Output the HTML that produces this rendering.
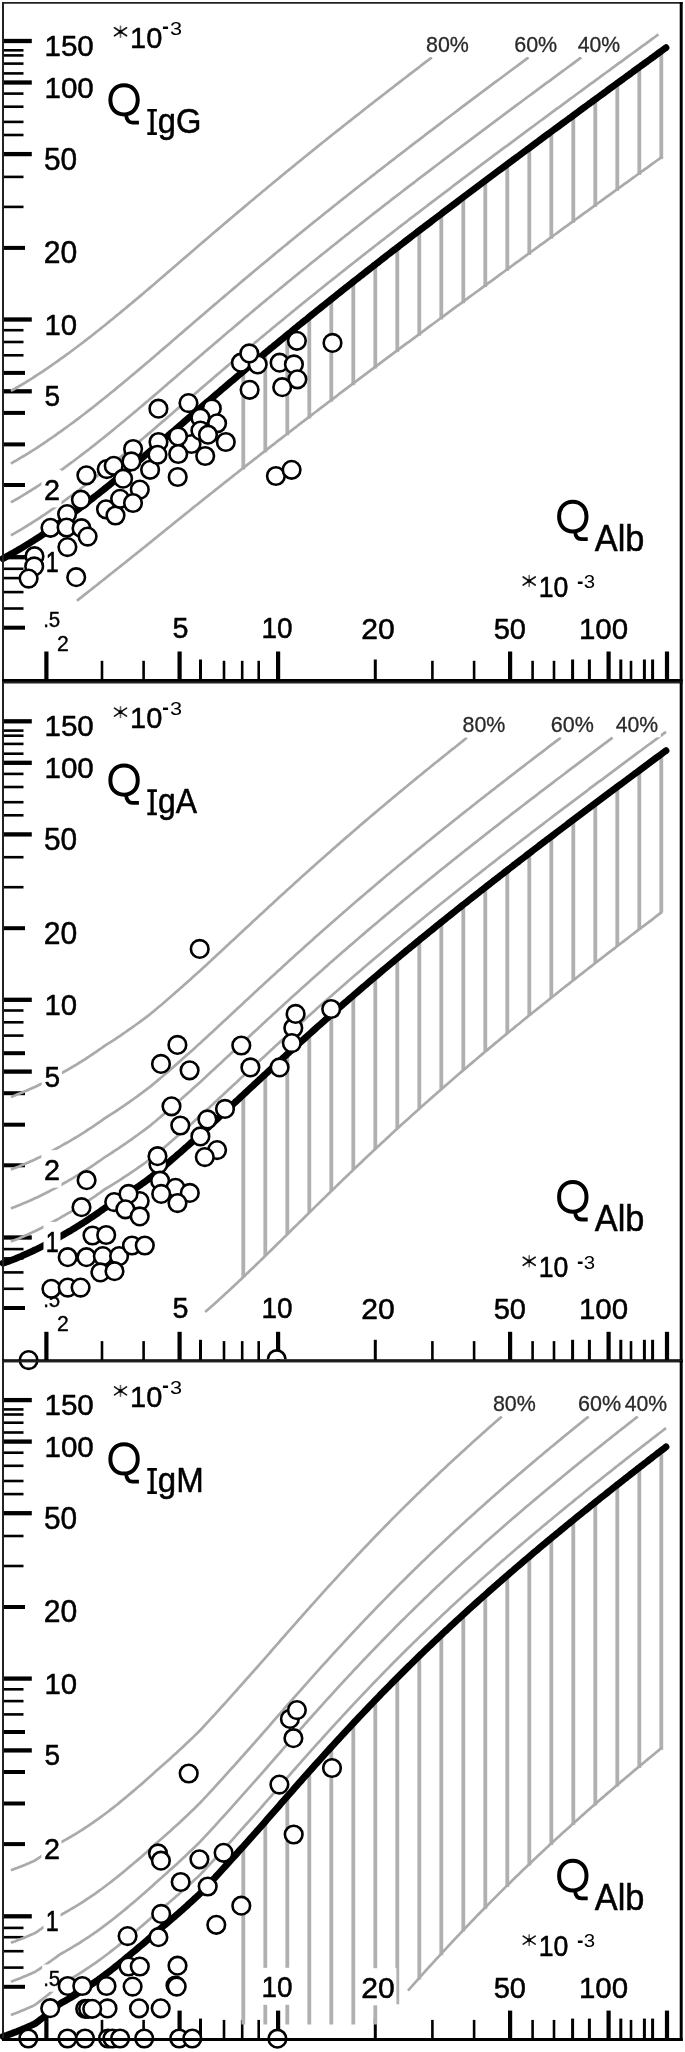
<!DOCTYPE html><html><head><meta charset="utf-8"><style>html,body{margin:0;padding:0;background:#fff;width:685px;height:2052px;overflow:hidden}svg{display:block;filter:grayscale(1)}</style></head><body><svg width="685" height="2052" viewBox="0 0 685 2052">
<line x1="3" y1="41.0" x2="31.8" y2="41.0" stroke="#000" stroke-width="4.3"/>
<line x1="3" y1="50.3" x2="23.5" y2="50.3" stroke="#000" stroke-width="2.6"/>
<line x1="3" y1="55.4" x2="23.5" y2="55.4" stroke="#000" stroke-width="2.6"/>
<line x1="3" y1="63.6" x2="23.5" y2="63.6" stroke="#000" stroke-width="2.6"/>
<line x1="3" y1="73.4" x2="23.5" y2="73.4" stroke="#000" stroke-width="2.6"/>
<line x1="3" y1="82.5" x2="31.8" y2="82.5" stroke="#000" stroke-width="4.3"/>
<line x1="3" y1="93.6" x2="23.5" y2="93.6" stroke="#000" stroke-width="2.6"/>
<line x1="3" y1="106.7" x2="23.5" y2="106.7" stroke="#000" stroke-width="2.6"/>
<line x1="3" y1="121.9" x2="23.5" y2="121.9" stroke="#000" stroke-width="2.6"/>
<line x1="3" y1="135.0" x2="23.5" y2="135.0" stroke="#000" stroke-width="2.6"/>
<line x1="3" y1="154.1" x2="31.8" y2="154.1" stroke="#000" stroke-width="4.3"/>
<line x1="3" y1="176.9" x2="23.5" y2="176.9" stroke="#000" stroke-width="2.6"/>
<line x1="3" y1="206.9" x2="23.5" y2="206.9" stroke="#000" stroke-width="2.6"/>
<line x1="3" y1="247.9" x2="25" y2="247.9" stroke="#000" stroke-width="4"/>
<line x1="3" y1="319.5" x2="31.8" y2="319.5" stroke="#000" stroke-width="4.3"/>
<line x1="3" y1="330.2" x2="23.5" y2="330.2" stroke="#000" stroke-width="2.6"/>
<line x1="3" y1="342.0" x2="23.5" y2="342.0" stroke="#000" stroke-width="2.6"/>
<line x1="3" y1="355.3" x2="23.5" y2="355.3" stroke="#000" stroke-width="2.6"/>
<line x1="3" y1="372.9" x2="25" y2="372.9" stroke="#000" stroke-width="4"/>
<line x1="3" y1="391.3" x2="31.8" y2="391.3" stroke="#000" stroke-width="4.3"/>
<line x1="3" y1="412.9" x2="25" y2="412.9" stroke="#000" stroke-width="4"/>
<line x1="3" y1="444.4" x2="25" y2="444.4" stroke="#000" stroke-width="4"/>
<line x1="3" y1="485.0" x2="25" y2="485.0" stroke="#000" stroke-width="4"/>
<line x1="3" y1="557.2" x2="31.8" y2="557.2" stroke="#000" stroke-width="4.3"/>
<line x1="3" y1="568.8" x2="23.5" y2="568.8" stroke="#000" stroke-width="2.6"/>
<line x1="3" y1="578.1" x2="23.5" y2="578.1" stroke="#000" stroke-width="2.6"/>
<line x1="3" y1="592.1" x2="23.5" y2="592.1" stroke="#000" stroke-width="2.6"/>
<line x1="3" y1="608.5" x2="23.5" y2="608.5" stroke="#000" stroke-width="2.6"/>
<line x1="3" y1="627.7" x2="25" y2="627.7" stroke="#000" stroke-width="4"/>
<line x1="46.4" y1="680.5" x2="46.4" y2="651.5" stroke="#000" stroke-width="4.2"/>
<line x1="102.0" y1="680.5" x2="102.0" y2="660.8" stroke="#000" stroke-width="2.6"/>
<line x1="143.6" y1="680.5" x2="143.6" y2="660.8" stroke="#000" stroke-width="2.6"/>
<line x1="179.6" y1="680.5" x2="179.6" y2="651.5" stroke="#000" stroke-width="4.2"/>
<line x1="200.5" y1="680.5" x2="200.5" y2="659.5" stroke="#000" stroke-width="3"/>
<line x1="224.0" y1="680.5" x2="224.0" y2="660.8" stroke="#000" stroke-width="2.6"/>
<line x1="242.2" y1="680.5" x2="242.2" y2="660.8" stroke="#000" stroke-width="2.6"/>
<line x1="258.7" y1="680.5" x2="258.7" y2="660.8" stroke="#000" stroke-width="2.6"/>
<line x1="278.1" y1="680.5" x2="278.1" y2="651.5" stroke="#000" stroke-width="4.2"/>
<line x1="375.3" y1="680.5" x2="375.3" y2="659.5" stroke="#000" stroke-width="3"/>
<line x1="432.4" y1="680.5" x2="432.4" y2="660.8" stroke="#000" stroke-width="2.6"/>
<line x1="474.1" y1="680.5" x2="474.1" y2="660.8" stroke="#000" stroke-width="2.6"/>
<line x1="510.1" y1="680.5" x2="510.1" y2="651.5" stroke="#000" stroke-width="4.2"/>
<line x1="532.6" y1="680.5" x2="532.6" y2="660.8" stroke="#000" stroke-width="2.6"/>
<line x1="554.0" y1="680.5" x2="554.0" y2="660.8" stroke="#000" stroke-width="2.6"/>
<line x1="572.6" y1="680.5" x2="572.6" y2="659.5" stroke="#000" stroke-width="3"/>
<line x1="589.4" y1="680.5" x2="589.4" y2="659.5" stroke="#000" stroke-width="3"/>
<line x1="608.6" y1="680.5" x2="608.6" y2="651.5" stroke="#000" stroke-width="4.2"/>
<line x1="620.8" y1="680.5" x2="620.8" y2="659.5" stroke="#000" stroke-width="3"/>
<line x1="631.0" y1="680.5" x2="631.0" y2="660.8" stroke="#000" stroke-width="2.6"/>
<line x1="644.4" y1="680.5" x2="644.4" y2="659.5" stroke="#000" stroke-width="3"/>
<line x1="652.6" y1="680.5" x2="652.6" y2="659.5" stroke="#000" stroke-width="3"/>
<line x1="667.0" y1="680.5" x2="667.0" y2="651.5" stroke="#000" stroke-width="4.2"/>
<line x1="243.3" y1="371.4" x2="243.3" y2="469.6" stroke="#b0b0b0" stroke-width="3.8"/>
<line x1="265.3" y1="353.0" x2="265.3" y2="452.4" stroke="#b0b0b0" stroke-width="3.8"/>
<line x1="287.3" y1="334.8" x2="287.3" y2="435.4" stroke="#b0b0b0" stroke-width="3.8"/>
<line x1="309.3" y1="316.9" x2="309.3" y2="418.5" stroke="#b0b0b0" stroke-width="3.8"/>
<line x1="331.3" y1="299.2" x2="331.3" y2="401.7" stroke="#b0b0b0" stroke-width="3.8"/>
<line x1="353.3" y1="281.8" x2="353.3" y2="385.1" stroke="#b0b0b0" stroke-width="3.8"/>
<line x1="375.3" y1="264.5" x2="375.3" y2="368.5" stroke="#b0b0b0" stroke-width="3.8"/>
<line x1="397.3" y1="247.5" x2="397.3" y2="352.1" stroke="#b0b0b0" stroke-width="3.8"/>
<line x1="419.3" y1="230.6" x2="419.3" y2="335.7" stroke="#b0b0b0" stroke-width="3.8"/>
<line x1="441.3" y1="213.8" x2="441.3" y2="319.4" stroke="#b0b0b0" stroke-width="3.8"/>
<line x1="463.3" y1="197.2" x2="463.3" y2="303.2" stroke="#b0b0b0" stroke-width="3.8"/>
<line x1="485.3" y1="180.7" x2="485.3" y2="287.1" stroke="#b0b0b0" stroke-width="3.8"/>
<line x1="507.3" y1="164.3" x2="507.3" y2="270.9" stroke="#b0b0b0" stroke-width="3.8"/>
<line x1="529.3" y1="147.9" x2="529.3" y2="254.9" stroke="#b0b0b0" stroke-width="3.8"/>
<line x1="551.3" y1="131.7" x2="551.3" y2="238.8" stroke="#b0b0b0" stroke-width="3.8"/>
<line x1="573.3" y1="115.5" x2="573.3" y2="222.8" stroke="#b0b0b0" stroke-width="3.8"/>
<line x1="595.3" y1="99.3" x2="595.3" y2="206.9" stroke="#b0b0b0" stroke-width="3.8"/>
<line x1="617.3" y1="83.2" x2="617.3" y2="190.9" stroke="#b0b0b0" stroke-width="3.8"/>
<line x1="639.3" y1="67.2" x2="639.3" y2="175.0" stroke="#b0b0b0" stroke-width="3.8"/>
<line x1="661.3" y1="51.1" x2="661.3" y2="159.1" stroke="#b0b0b0" stroke-width="3.8"/>
<path d="M76.9 600.7 L78.9 599.1 L80.9 597.6 L82.9 596.0 L84.9 594.4 L86.9 592.9 L88.9 591.3 L90.9 589.7 L92.9 588.1 L94.9 586.5 L96.9 585.0 L98.9 583.4 L100.9 581.8 L102.9 580.2 L104.9 578.6 L106.9 577.0 L108.9 575.4 L110.9 573.8 L112.9 572.2 L114.9 570.6 L116.9 569.0 L118.9 567.5 L120.9 565.9 L122.9 564.3 L124.9 562.7 L126.9 561.1 L128.9 559.5 L130.9 557.9 L132.9 556.3 L134.9 554.7 L136.9 553.1 L138.9 551.5 L140.9 549.9 L142.9 548.3 L144.9 546.7 L146.9 545.1 L148.9 543.5 L150.9 541.9 L152.9 540.2 L154.9 538.6 L156.9 537.0 L158.9 535.4 L160.9 533.8 L162.9 532.1 L164.9 530.5 L166.9 528.9 L168.9 527.3 L170.9 525.7 L172.9 524.0 L174.9 522.4 L176.9 520.8 L178.9 519.2 L180.9 517.6 L182.9 516.0 L184.9 514.4 L186.9 512.8 L188.9 511.2 L190.9 509.5 L192.9 507.9 L194.9 506.3 L196.9 504.7 L198.9 503.1 L200.9 501.5 L202.9 499.9 L204.9 498.3 L206.9 496.7 L208.9 495.1 L210.9 493.5 L212.9 492.0 L214.9 490.4 L216.9 488.8 L218.9 487.2 L220.9 485.6 L222.9 484.0 L224.9 482.4 L226.9 480.8 L228.9 479.3 L230.9 477.7 L232.9 476.1 L234.9 474.5 L236.9 473.0 L238.9 471.4 L240.9 469.8 L242.9 468.2 L244.9 466.7 L246.9 465.1 L248.9 463.5 L250.9 462.0 L252.9 460.4 L254.9 458.8 L256.9 457.3 L258.9 455.7 L260.9 454.1 L262.9 452.6 L264.9 451.0 L266.9 449.5 L268.9 447.9 L270.9 446.4 L272.9 444.8 L274.9 443.3 L276.9 441.7 L278.9 440.2 L280.9 438.6 L282.9 437.1 L284.9 435.5 L286.9 434.0 L288.9 432.4 L290.9 430.9 L292.9 429.4 L294.9 427.8 L296.9 426.3 L298.9 424.7 L300.9 423.2 L302.9 421.7 L304.9 420.1 L306.9 418.6 L308.9 417.1 L310.9 415.6 L312.9 414.0 L314.9 412.5 L316.9 411.0 L318.9 409.4 L320.9 407.9 L322.9 406.4 L324.9 404.9 L326.9 403.4 L328.9 401.8 L330.9 400.3 L332.9 398.8 L334.9 397.3 L336.9 395.8 L338.9 394.2 L340.9 392.7 L342.9 391.2 L344.9 389.7 L346.9 388.2 L348.9 386.7 L350.9 385.2 L352.9 383.7 L354.9 382.2 L356.9 380.7 L358.9 379.1 L360.9 377.6 L362.9 376.1 L364.9 374.6 L366.9 373.1 L368.9 371.6 L370.9 370.1 L372.9 368.6 L374.9 367.1 L376.9 365.6 L378.9 364.1 L380.9 362.6 L382.9 361.1 L384.9 359.6 L386.9 358.1 L388.9 356.7 L390.9 355.2 L392.9 353.7 L394.9 352.2 L396.9 350.7 L398.9 349.2 L400.9 347.7 L402.9 346.2 L404.9 344.7 L406.9 343.2 L408.9 341.8 L410.9 340.3 L412.9 338.8 L414.9 337.3 L416.9 335.8 L418.9 334.3 L420.9 332.8 L422.9 331.4 L424.9 329.9 L426.9 328.4 L428.9 326.9 L430.9 325.4 L432.9 324.0 L434.9 322.5 L436.9 321.0 L438.9 319.5 L440.9 318.0 L442.9 316.6 L444.9 315.1 L446.9 313.6 L448.9 312.1 L450.9 310.7 L452.9 309.2 L454.9 307.7 L456.9 306.2 L458.9 304.8 L460.9 303.3 L462.9 301.8 L464.9 300.3 L466.9 298.9 L468.9 297.4 L470.9 295.9 L472.9 294.5 L474.9 293.0 L476.9 291.5 L478.9 290.1 L480.9 288.6 L482.9 287.1 L484.9 285.7 L486.9 284.2 L488.9 282.7 L490.9 281.3 L492.9 279.8 L494.9 278.3 L496.9 276.9 L498.9 275.4 L500.9 273.9 L502.9 272.5 L504.9 271.0 L506.9 269.5 L508.9 268.1 L510.9 266.6 L512.9 265.2 L514.9 263.7 L516.9 262.2 L518.9 260.8 L520.9 259.3 L522.9 257.8 L524.9 256.4 L526.9 254.9 L528.9 253.5 L530.9 252.0 L532.9 250.5 L534.9 249.1 L536.9 247.6 L538.9 246.2 L540.9 244.7 L542.9 243.3 L544.9 241.8 L546.9 240.3 L548.9 238.9 L550.9 237.4 L552.9 236.0 L554.9 234.5 L556.9 233.1 L558.9 231.6 L560.9 230.2 L562.9 228.7 L564.9 227.2 L566.9 225.8 L568.9 224.3 L570.9 222.9 L572.9 221.4 L574.9 220.0 L576.9 218.5 L578.9 217.1 L580.9 215.6 L582.9 214.2 L584.9 212.7 L586.9 211.3 L588.9 209.8 L590.9 208.4 L592.9 206.9 L594.9 205.4 L596.9 204.0 L598.9 202.5 L600.9 201.1 L602.9 199.6 L604.9 198.2 L606.9 196.7 L608.9 195.3 L610.9 193.8 L612.9 192.4 L614.9 190.9 L616.9 189.5 L618.9 188.0 L620.9 186.6 L622.9 185.1 L624.9 183.7 L626.9 182.3 L628.9 180.8 L630.9 179.4 L632.9 177.9 L634.9 176.5 L636.9 175.0 L638.9 173.6 L640.9 172.1 L642.9 170.7 L644.9 169.2 L646.9 167.8 L648.9 166.3 L650.9 164.9 L652.9 163.4 L654.9 162.0 L656.9 160.5 L658.9 159.1 L660.9 157.6 L662.0 156.9" fill="none" stroke="#aaaaaa" stroke-width="2.7" stroke-linejoin="round" />
<path d="M10.9 535.4 L12.9 534.2 L14.9 533.1 L16.9 531.9 L18.9 530.8 L20.9 529.6 L22.9 528.4 L24.9 527.2 L26.9 526.0 L28.9 524.7 L30.9 523.5 L32.9 522.2 L34.9 520.9 L36.9 519.6 L38.9 518.3 L40.9 517.0 L42.9 515.7 L44.9 514.3 L46.9 513.0 L48.9 511.6 L50.9 510.2 L52.9 508.9 L54.9 507.4 L56.9 506.0 L58.9 504.6 L60.9 503.2 L62.9 501.8 L64.9 500.3 L66.9 498.9 L68.9 497.4 L70.9 496.0 L72.9 494.5 L74.9 493.0 L76.9 491.5 L78.9 490.0 L80.9 488.5 L82.9 487.0 L84.9 485.5 L86.9 483.9 L88.9 482.4 L90.9 480.8 L92.9 479.3 L94.9 477.7 L96.9 476.1 L98.9 474.6 L100.9 473.0 L102.9 471.4 L104.9 469.8 L106.9 468.2 L108.9 466.6 L110.9 464.9 L112.9 463.3 L114.9 461.7 L116.9 460.1 L118.9 458.4 L120.9 456.8 L122.9 455.1 L124.9 453.5 L126.9 451.8 L128.9 450.2 L130.9 448.5 L132.9 446.8 L134.9 445.2 L136.9 443.5 L138.9 441.8 L140.9 440.1 L142.9 438.5 L144.9 436.8 L146.9 435.1 L148.9 433.4 L150.9 431.7 L152.9 430.0 L154.9 428.3 L156.9 426.6 L158.9 424.8 L160.9 423.1 L162.9 421.4 L164.9 419.7 L166.9 417.9 L168.9 416.2 L170.9 414.5 L172.9 412.8 L174.9 411.0 L176.9 409.3 L178.9 407.6 L180.9 405.9 L182.9 404.1 L184.9 402.4 L186.9 400.7 L188.9 399.0 L190.9 397.2 L192.9 395.5 L194.9 393.8 L196.9 392.1 L198.9 390.4 L200.9 388.6 L202.9 386.9 L204.9 385.2 L206.9 383.5 L208.9 381.8 L210.9 380.1 L212.9 378.4 L214.9 376.6 L216.9 374.9 L218.9 373.2 L220.9 371.5 L222.9 369.8 L224.9 368.1 L226.9 366.4 L228.9 364.7 L230.9 363.0 L232.9 361.3 L234.9 359.6 L236.9 357.9 L238.9 356.3 L240.9 354.6 L242.9 352.9 L244.9 351.2 L246.9 349.5 L248.9 347.8 L250.9 346.2 L252.9 344.5 L254.9 342.8 L256.9 341.1 L258.9 339.5 L260.9 337.8 L262.9 336.1 L264.9 334.5 L266.9 332.8 L268.9 331.2 L270.9 329.5 L272.9 327.8 L274.9 326.2 L276.9 324.5 L278.9 322.9 L280.9 321.2 L282.9 319.6 L284.9 318.0 L286.9 316.3 L288.9 314.7 L290.9 313.0 L292.9 311.4 L294.9 309.8 L296.9 308.1 L298.9 306.5 L300.9 304.9 L302.9 303.3 L304.9 301.6 L306.9 300.0 L308.9 298.4 L310.9 296.8 L312.9 295.2 L314.9 293.6 L316.9 292.0 L318.9 290.3 L320.9 288.7 L322.9 287.1 L324.9 285.5 L326.9 283.9 L328.9 282.3 L330.9 280.7 L332.9 279.1 L334.9 277.6 L336.9 276.0 L338.9 274.4 L340.9 272.8 L342.9 271.2 L344.9 269.6 L346.9 268.0 L348.9 266.4 L350.9 264.9 L352.9 263.3 L354.9 261.7 L356.9 260.1 L358.9 258.6 L360.9 257.0 L362.9 255.4 L364.9 253.9 L366.9 252.3 L368.9 250.7 L370.9 249.2 L372.9 247.6 L374.9 246.0 L376.9 244.5 L378.9 242.9 L380.9 241.4 L382.9 239.8 L384.9 238.3 L386.9 236.7 L388.9 235.2 L390.9 233.6 L392.9 232.1 L394.9 230.5 L396.9 229.0 L398.9 227.4 L400.9 225.9 L402.9 224.4 L404.9 222.8 L406.9 221.3 L408.9 219.7 L410.9 218.2 L412.9 216.7 L414.9 215.1 L416.9 213.6 L418.9 212.1 L420.9 210.6 L422.9 209.0 L424.9 207.5 L426.9 206.0 L428.9 204.4 L430.9 202.9 L432.9 201.4 L434.9 199.9 L436.9 198.4 L438.9 196.8 L440.9 195.3 L442.9 193.8 L444.9 192.3 L446.9 190.8 L448.9 189.3 L450.9 187.8 L452.9 186.2 L454.9 184.7 L456.9 183.2 L458.9 181.7 L460.9 180.2 L462.9 178.7 L464.9 177.2 L466.9 175.7 L468.9 174.2 L470.9 172.7 L472.9 171.2 L474.9 169.7 L476.9 168.2 L478.9 166.7 L480.9 165.2 L482.9 163.7 L484.9 162.2 L486.9 160.7 L488.9 159.2 L490.9 157.7 L492.9 156.2 L494.9 154.7 L496.9 153.2 L498.9 151.7 L500.9 150.2 L502.9 148.7 L504.9 147.2 L506.9 145.8 L508.9 144.3 L510.9 142.8 L512.9 141.3 L514.9 139.8 L516.9 138.3 L518.9 136.8 L520.9 135.4 L522.9 133.9 L524.9 132.4 L526.9 130.9 L528.9 129.4 L530.9 127.9 L532.9 126.5 L534.9 125.0 L536.9 123.5 L538.9 122.0 L540.9 120.5 L542.9 119.1 L544.9 117.6 L546.9 116.1 L548.9 114.6 L550.9 113.2 L552.9 111.7 L554.9 110.2 L556.9 108.7 L558.9 107.3 L560.9 105.8 L562.9 104.3 L564.9 102.8 L566.9 101.4 L568.9 99.9 L570.9 98.4 L572.9 97.0 L574.9 95.5 L576.9 94.0 L578.9 92.5 L580.9 91.1 L582.9 89.6 L584.9 88.1 L586.9 86.7 L588.9 85.2 L590.9 83.7 L592.9 82.3 L594.9 80.8 L596.9 79.3 L598.9 77.9 L600.9 76.4 L602.9 74.9 L604.9 73.5 L606.9 72.0 L608.9 70.6 L610.9 69.1 L612.9 67.6 L614.9 66.2 L616.9 64.7 L618.9 63.2 L620.9 61.8 L622.9 60.3 L624.9 58.9 L626.9 57.4 L628.9 55.9 L630.9 54.5 L632.9 53.0 L634.9 51.6 L636.9 50.1 L638.9 48.7 L640.9 47.2 L642.9 45.7 L644.9 44.3 L646.9 42.8 L648.9 41.4 L650.9 39.9 L652.9 38.4 L654.9 37.0 L656.9 35.5 L658.4 34.4" fill="none" stroke="#aaaaaa" stroke-width="2.7" stroke-linejoin="round" />
<path d="M10.9 502.4 L12.9 501.2 L14.9 500.1 L16.9 499.0 L18.9 497.8 L20.9 496.6 L22.9 495.4 L24.9 494.2 L26.9 493.0 L28.9 491.7 L30.9 490.5 L32.9 489.2 L34.9 488.0 L36.9 486.7 L38.9 485.4 L40.9 484.0 L42.9 482.7 L44.9 481.4 L46.9 480.0 L48.9 478.6 L50.9 477.3 L52.9 475.9 L54.9 474.5 L56.9 473.0 L58.9 471.6 L60.9 470.2 L62.9 468.8 L64.9 467.3 L66.9 465.9 L68.9 464.4 L70.9 462.9 L72.9 461.5 L74.9 460.0 L76.9 458.5 L78.9 457.0 L80.9 455.4 L82.9 453.9 L84.9 452.4 L86.9 450.8 L88.9 449.3 L90.9 447.7 L92.9 446.2 L94.9 444.6 L96.9 443.0 L98.9 441.4 L100.9 439.8 L102.9 438.2 L104.9 436.6 L106.9 435.0 L108.9 433.4 L110.9 431.7 L112.9 430.1 L114.9 428.5 L116.9 426.8 L118.9 425.2 L120.9 423.5 L122.9 421.9 L124.9 420.2 L126.9 418.5 L128.9 416.9 L130.9 415.2 L132.9 413.5 L134.9 411.9 L136.9 410.2 L138.9 408.5 L140.9 406.8 L142.9 405.1 L144.9 403.4 L146.9 401.7 L148.9 400.0 L150.9 398.3 L152.9 396.6 L154.9 394.9 L156.9 393.2 L158.9 391.5 L160.9 389.7 L162.9 388.0 L164.9 386.3 L166.9 384.6 L168.9 382.8 L170.9 381.1 L172.9 379.4 L174.9 377.7 L176.9 375.9 L178.9 374.2 L180.9 372.5 L182.9 370.8 L184.9 369.0 L186.9 367.3 L188.9 365.6 L190.9 363.9 L192.9 362.1 L194.9 360.4 L196.9 358.7 L198.9 357.0 L200.9 355.3 L202.9 353.6 L204.9 351.8 L206.9 350.1 L208.9 348.4 L210.9 346.7 L212.9 345.0 L214.9 343.3 L216.9 341.6 L218.9 339.9 L220.9 338.2 L222.9 336.4 L224.9 334.7 L226.9 333.0 L228.9 331.3 L230.9 329.7 L232.9 328.0 L234.9 326.3 L236.9 324.6 L238.9 322.9 L240.9 321.2 L242.9 319.5 L244.9 317.8 L246.9 316.1 L248.9 314.5 L250.9 312.8 L252.9 311.1 L254.9 309.4 L256.9 307.8 L258.9 306.1 L260.9 304.4 L262.9 302.8 L264.9 301.1 L266.9 299.4 L268.9 297.8 L270.9 296.1 L272.9 294.5 L274.9 292.8 L276.9 291.2 L278.9 289.5 L280.9 287.9 L282.9 286.2 L284.9 284.6 L286.9 282.9 L288.9 281.3 L290.9 279.7 L292.9 278.0 L294.9 276.4 L296.9 274.8 L298.9 273.1 L300.9 271.5 L302.9 269.9 L304.9 268.3 L306.9 266.7 L308.9 265.0 L310.9 263.4 L312.9 261.8 L314.9 260.2 L316.9 258.6 L318.9 257.0 L320.9 255.4 L322.9 253.8 L324.9 252.2 L326.9 250.6 L328.9 249.0 L330.9 247.4 L332.9 245.8 L334.9 244.2 L336.9 242.6 L338.9 241.0 L340.9 239.4 L342.9 237.8 L344.9 236.2 L346.9 234.7 L348.9 233.1 L350.9 231.5 L352.9 229.9 L354.9 228.3 L356.9 226.8 L358.9 225.2 L360.9 223.6 L362.9 222.1 L364.9 220.5 L366.9 218.9 L368.9 217.4 L370.9 215.8 L372.9 214.2 L374.9 212.7 L376.9 211.1 L378.9 209.6 L380.9 208.0 L382.9 206.4 L384.9 204.9 L386.9 203.3 L388.9 201.8 L390.9 200.2 L392.9 198.7 L394.9 197.2 L396.9 195.6 L398.9 194.1 L400.9 192.5 L402.9 191.0 L404.9 189.4 L406.9 187.9 L408.9 186.4 L410.9 184.8 L412.9 183.3 L414.9 181.8 L416.9 180.2 L418.9 178.7 L420.9 177.2 L422.9 175.7 L424.9 174.1 L426.9 172.6 L428.9 171.1 L430.9 169.6 L432.9 168.0 L434.9 166.5 L436.9 165.0 L438.9 163.5 L440.9 162.0 L442.9 160.4 L444.9 158.9 L446.9 157.4 L448.9 155.9 L450.9 154.4 L452.9 152.9 L454.9 151.4 L456.9 149.8 L458.9 148.3 L460.9 146.8 L462.9 145.3 L464.9 143.8 L466.9 142.3 L468.9 140.8 L470.9 139.3 L472.9 137.8 L474.9 136.3 L476.9 134.8 L478.9 133.3 L480.9 131.8 L482.9 130.3 L484.9 128.8 L486.9 127.3 L488.9 125.8 L490.9 124.3 L492.9 122.8 L494.9 121.3 L496.9 119.8 L498.9 118.3 L500.9 116.9 L502.9 115.4 L504.9 113.9 L506.9 112.4 L508.9 110.9 L510.9 109.4 L512.9 107.9 L514.9 106.4 L516.9 104.9 L518.9 103.5 L520.9 102.0 L522.9 100.5 L524.9 99.0 L526.9 97.5 L528.9 96.0 L530.9 94.6 L532.9 93.1 L534.9 91.6 L536.9 90.1 L538.9 88.6 L540.9 87.2 L542.9 85.7 L544.9 84.2 L546.9 82.7 L548.9 81.3 L550.9 79.8 L552.9 78.3 L554.9 76.8 L556.9 75.4 L558.9 73.9 L560.9 72.4 L562.9 70.9 L564.9 69.5 L566.9 68.0 L568.9 66.5 L570.9 65.1 L572.9 63.6 L574.9 62.1 L576.9 60.6 L578.9 59.2 L580.9 57.7 L581.3 57.4" fill="none" stroke="#aaaaaa" stroke-width="2.7" stroke-linejoin="round" />
<path d="M10.9 463.5 L12.9 462.4 L14.9 461.2 L16.9 460.1 L18.9 458.9 L20.9 457.7 L22.9 456.5 L24.9 455.3 L26.9 454.1 L28.9 452.9 L30.9 451.6 L32.9 450.3 L34.9 449.1 L36.9 447.8 L38.9 446.5 L40.9 445.1 L42.9 443.8 L44.9 442.5 L46.9 441.1 L48.9 439.7 L50.9 438.4 L52.9 437.0 L54.9 435.6 L56.9 434.2 L58.9 432.7 L60.9 431.3 L62.9 429.9 L64.9 428.4 L66.9 427.0 L68.9 425.5 L70.9 424.0 L72.9 422.6 L74.9 421.1 L76.9 419.6 L78.9 418.1 L80.9 416.5 L82.9 415.0 L84.9 413.5 L86.9 411.9 L88.9 410.4 L90.9 408.8 L92.9 407.3 L94.9 405.7 L96.9 404.1 L98.9 402.5 L100.9 400.9 L102.9 399.3 L104.9 397.7 L106.9 396.1 L108.9 394.5 L110.9 392.8 L112.9 391.2 L114.9 389.6 L116.9 387.9 L118.9 386.3 L120.9 384.6 L122.9 383.0 L124.9 381.3 L126.9 379.7 L128.9 378.0 L130.9 376.3 L132.9 374.6 L134.9 373.0 L136.9 371.3 L138.9 369.6 L140.9 367.9 L142.9 366.2 L144.9 364.5 L146.9 362.8 L148.9 361.2 L150.9 359.4 L152.9 357.7 L154.9 356.0 L156.9 354.3 L158.9 352.6 L160.9 350.8 L162.9 349.1 L164.9 347.4 L166.9 345.7 L168.9 344.0 L170.9 342.2 L172.9 340.5 L174.9 338.8 L176.9 337.1 L178.9 335.3 L180.9 333.6 L182.9 331.9 L184.9 330.1 L186.9 328.4 L188.9 326.7 L190.9 325.0 L192.9 323.3 L194.9 321.5 L196.9 319.8 L198.9 318.1 L200.9 316.4 L202.9 314.7 L204.9 312.9 L206.9 311.2 L208.9 309.5 L210.9 307.8 L212.9 306.1 L214.9 304.4 L216.9 302.7 L218.9 301.0 L220.9 299.3 L222.9 297.6 L224.9 295.9 L226.9 294.2 L228.9 292.5 L230.9 290.8 L232.9 289.1 L234.9 287.4 L236.9 285.7 L238.9 284.0 L240.9 282.3 L242.9 280.6 L244.9 278.9 L246.9 277.3 L248.9 275.6 L250.9 273.9 L252.9 272.2 L254.9 270.5 L256.9 268.9 L258.9 267.2 L260.9 265.5 L262.9 263.9 L264.9 262.2 L266.9 260.6 L268.9 258.9 L270.9 257.2 L272.9 255.6 L274.9 253.9 L276.9 252.3 L278.9 250.6 L280.9 249.0 L282.9 247.3 L284.9 245.7 L286.9 244.1 L288.9 242.4 L290.9 240.8 L292.9 239.1 L294.9 237.5 L296.9 235.9 L298.9 234.3 L300.9 232.6 L302.9 231.0 L304.9 229.4 L306.9 227.8 L308.9 226.1 L310.9 224.5 L312.9 222.9 L314.9 221.3 L316.9 219.7 L318.9 218.1 L320.9 216.5 L322.9 214.9 L324.9 213.3 L326.9 211.7 L328.9 210.1 L330.9 208.5 L332.9 206.9 L334.9 205.3 L336.9 203.7 L338.9 202.1 L340.9 200.5 L342.9 198.9 L344.9 197.3 L346.9 195.8 L348.9 194.2 L350.9 192.6 L352.9 191.0 L354.9 189.4 L356.9 187.9 L358.9 186.3 L360.9 184.7 L362.9 183.2 L364.9 181.6 L366.9 180.0 L368.9 178.5 L370.9 176.9 L372.9 175.3 L374.9 173.8 L376.9 172.2 L378.9 170.7 L380.9 169.1 L382.9 167.6 L384.9 166.0 L386.9 164.5 L388.9 162.9 L390.9 161.4 L392.9 159.8 L394.9 158.3 L396.9 156.7 L398.9 155.2 L400.9 153.6 L402.9 152.1 L404.9 150.6 L406.9 149.0 L408.9 147.5 L410.9 145.9 L412.9 144.4 L414.9 142.9 L416.9 141.3 L418.9 139.8 L420.9 138.3 L422.9 136.8 L424.9 135.2 L426.9 133.7 L428.9 132.2 L430.9 130.7 L432.9 129.1 L434.9 127.6 L436.9 126.1 L438.9 124.6 L440.9 123.1 L442.9 121.5 L444.9 120.0 L446.9 118.5 L448.9 117.0 L450.9 115.5 L452.9 114.0 L454.9 112.5 L456.9 111.0 L458.9 109.4 L460.9 107.9 L462.9 106.4 L464.9 104.9 L466.9 103.4 L468.9 101.9 L470.9 100.4 L472.9 98.9 L474.9 97.4 L476.9 95.9 L478.9 94.4 L480.9 92.9 L482.9 91.4 L484.9 89.9 L486.9 88.4 L488.9 86.9 L490.9 85.4 L492.9 83.9 L494.9 82.4 L496.9 80.9 L498.9 79.5 L500.9 78.0 L502.9 76.5 L504.9 75.0 L506.9 73.5 L508.9 72.0 L510.9 70.5 L512.9 69.0 L514.9 67.5 L516.9 66.1 L518.9 64.6 L520.9 63.1 L522.9 61.6 L524.9 60.1 L526.9 58.6 L528.6 57.4" fill="none" stroke="#aaaaaa" stroke-width="2.7" stroke-linejoin="round" />
<path d="M10.9 390.9 L12.9 389.8 L14.9 388.7 L16.9 387.5 L18.9 386.3 L20.9 385.2 L22.9 384.0 L24.9 382.8 L26.9 381.5 L28.9 380.3 L30.9 379.1 L32.9 377.8 L34.9 376.5 L36.9 375.2 L38.9 373.9 L40.9 372.6 L42.9 371.3 L44.9 369.9 L46.9 368.6 L48.9 367.2 L50.9 365.8 L52.9 364.4 L54.9 363.0 L56.9 361.6 L58.9 360.2 L60.9 358.7 L62.9 357.3 L64.9 355.9 L66.9 354.4 L68.9 353.0 L70.9 351.5 L72.9 350.0 L74.9 348.5 L76.9 347.0 L78.9 345.5 L80.9 344.0 L82.9 342.5 L84.9 340.9 L86.9 339.4 L88.9 337.8 L90.9 336.3 L92.9 334.7 L94.9 333.1 L96.9 331.5 L98.9 330.0 L100.9 328.4 L102.9 326.8 L104.9 325.2 L106.9 323.5 L108.9 321.9 L110.9 320.3 L112.9 318.7 L114.9 317.0 L116.9 315.4 L118.9 313.7 L120.9 312.1 L122.9 310.4 L124.9 308.8 L126.9 307.1 L128.9 305.4 L130.9 303.8 L132.9 302.1 L134.9 300.4 L136.9 298.7 L138.9 297.1 L140.9 295.4 L142.9 293.7 L144.9 292.0 L146.9 290.3 L148.9 288.6 L150.9 286.9 L152.9 285.2 L154.9 283.5 L156.9 281.7 L158.9 280.0 L160.9 278.3 L162.9 276.6 L164.9 274.9 L166.9 273.1 L168.9 271.4 L170.9 269.7 L172.9 268.0 L174.9 266.2 L176.9 264.5 L178.9 262.8 L180.9 261.0 L182.9 259.3 L184.9 257.6 L186.9 255.9 L188.9 254.2 L190.9 252.4 L192.9 250.7 L194.9 249.0 L196.9 247.3 L198.9 245.5 L200.9 243.8 L202.9 242.1 L204.9 240.4 L206.9 238.7 L208.9 237.0 L210.9 235.3 L212.9 233.5 L214.9 231.8 L216.9 230.1 L218.9 228.4 L220.9 226.7 L222.9 225.0 L224.9 223.3 L226.9 221.6 L228.9 219.9 L230.9 218.2 L232.9 216.5 L234.9 214.8 L236.9 213.1 L238.9 211.4 L240.9 209.8 L242.9 208.1 L244.9 206.4 L246.9 204.7 L248.9 203.0 L250.9 201.3 L252.9 199.7 L254.9 198.0 L256.9 196.3 L258.9 194.7 L260.9 193.0 L262.9 191.3 L264.9 189.7 L266.9 188.0 L268.9 186.3 L270.9 184.7 L272.9 183.0 L274.9 181.4 L276.9 179.7 L278.9 178.1 L280.9 176.4 L282.9 174.8 L284.9 173.1 L286.9 171.5 L288.9 169.9 L290.9 168.2 L292.9 166.6 L294.9 165.0 L296.9 163.3 L298.9 161.7 L300.9 160.1 L302.9 158.5 L304.9 156.8 L306.9 155.2 L308.9 153.6 L310.9 152.0 L312.9 150.4 L314.9 148.8 L316.9 147.1 L318.9 145.5 L320.9 143.9 L322.9 142.3 L324.9 140.7 L326.9 139.1 L328.9 137.5 L330.9 135.9 L332.9 134.3 L334.9 132.7 L336.9 131.1 L338.9 129.6 L340.9 128.0 L342.9 126.4 L344.9 124.8 L346.9 123.2 L348.9 121.6 L350.9 120.1 L352.9 118.5 L354.9 116.9 L356.9 115.3 L358.9 113.8 L360.9 112.2 L362.9 110.6 L364.9 109.0 L366.9 107.5 L368.9 105.9 L370.9 104.3 L372.9 102.8 L374.9 101.2 L376.9 99.7 L378.9 98.1 L380.9 96.6 L382.9 95.0 L384.9 93.5 L386.9 91.9 L388.9 90.4 L390.9 88.8 L392.9 87.3 L394.9 85.7 L396.9 84.2 L398.9 82.6 L400.9 81.1 L402.9 79.5 L404.9 78.0 L406.9 76.5 L408.9 74.9 L410.9 73.4 L412.9 71.9 L414.9 70.3 L416.9 68.8 L418.9 67.3 L420.9 65.7 L422.9 64.2 L424.9 62.7 L426.9 61.2 L428.9 59.6 L430.9 58.1 L431.8 57.4" fill="none" stroke="#aaaaaa" stroke-width="2.7" stroke-linejoin="round" />
<path d="M3.0 558.5 L5.0 557.4 L7.0 556.3 L9.0 555.2 L11.0 554.1 L13.0 553.0 L15.0 551.8 L17.0 550.7 L19.0 549.5 L21.0 548.3 L23.0 547.1 L25.0 545.9 L27.0 544.7 L29.0 543.5 L31.0 542.2 L33.0 541.0 L35.0 539.7 L37.0 538.4 L39.0 537.1 L41.0 535.8 L43.0 534.4 L45.0 533.1 L47.0 531.7 L49.0 530.4 L51.0 529.0 L53.0 527.6 L55.0 526.2 L57.0 524.8 L59.0 523.3 L61.0 521.9 L63.0 520.5 L65.0 519.1 L67.0 517.6 L69.0 516.2 L71.0 514.7 L73.0 513.2 L75.0 511.7 L77.0 510.3 L79.0 508.8 L81.0 507.2 L83.0 505.7 L85.0 504.2 L87.0 502.7 L89.0 501.1 L91.0 499.6 L93.0 498.0 L95.0 496.4 L97.0 494.9 L99.0 493.3 L101.0 491.7 L103.0 490.1 L105.0 488.5 L107.0 486.9 L109.0 485.3 L111.0 483.7 L113.0 482.0 L115.0 480.4 L117.0 478.8 L119.0 477.1 L121.0 475.5 L123.0 473.8 L125.0 472.2 L127.0 470.5 L129.0 468.9 L131.0 467.2 L133.0 465.6 L135.0 463.9 L137.0 462.2 L139.0 460.5 L141.0 458.9 L143.0 457.2 L145.0 455.5 L147.0 453.8 L149.0 452.1 L151.0 450.4 L153.0 448.7 L155.0 447.0 L157.0 445.3 L159.0 443.6 L161.0 441.8 L163.0 440.1 L165.0 438.4 L167.0 436.7 L169.0 434.9 L171.0 433.2 L173.0 431.5 L175.0 429.8 L177.0 428.0 L179.0 426.3 L181.0 424.6 L183.0 422.9 L185.0 421.1 L187.0 419.4 L189.0 417.7 L191.0 416.0 L193.0 414.2 L195.0 412.5 L197.0 410.8 L199.0 409.1 L201.0 407.4 L203.0 405.6 L205.0 403.9 L207.0 402.2 L209.0 400.5 L211.0 398.8 L213.0 397.1 L215.0 395.4 L217.0 393.7 L219.0 392.0 L221.0 390.2 L223.0 388.5 L225.0 386.8 L227.0 385.1 L229.0 383.4 L231.0 381.7 L233.0 380.1 L235.0 378.4 L237.0 376.7 L239.0 375.0 L241.0 373.3 L243.0 371.6 L245.0 369.9 L247.0 368.2 L249.0 366.6 L251.0 364.9 L253.0 363.2 L255.0 361.5 L257.0 359.9 L259.0 358.2 L261.0 356.5 L263.0 354.9 L265.0 353.2 L267.0 351.5 L269.0 349.9 L271.0 348.2 L273.0 346.6 L275.0 344.9 L277.0 343.3 L279.0 341.6 L281.0 340.0 L283.0 338.3 L285.0 336.7 L287.0 335.0 L289.0 333.4 L291.0 331.8 L293.0 330.1 L295.0 328.5 L297.0 326.9 L299.0 325.2 L301.0 323.6 L303.0 322.0 L305.0 320.4 L307.0 318.8 L309.0 317.1 L311.0 315.5 L313.0 313.9 L315.0 312.3 L317.0 310.7 L319.0 309.1 L321.0 307.5 L323.0 305.9 L325.0 304.3 L327.0 302.7 L329.0 301.1 L331.0 299.5 L333.0 297.9 L335.0 296.3 L337.0 294.7 L339.0 293.1 L341.0 291.5 L343.0 289.9 L345.0 288.3 L347.0 286.8 L349.0 285.2 L351.0 283.6 L353.0 282.0 L355.0 280.4 L357.0 278.9 L359.0 277.3 L361.0 275.7 L363.0 274.2 L365.0 272.6 L367.0 271.0 L369.0 269.5 L371.0 267.9 L373.0 266.3 L375.0 264.8 L377.0 263.2 L379.0 261.7 L381.0 260.1 L383.0 258.5 L385.0 257.0 L387.0 255.4 L389.0 253.9 L391.0 252.3 L393.0 250.8 L395.0 249.3 L397.0 247.7 L399.0 246.2 L401.0 244.6 L403.0 243.1 L405.0 241.5 L407.0 240.0 L409.0 238.5 L411.0 236.9 L413.0 235.4 L415.0 233.9 L417.0 232.3 L419.0 230.8 L421.0 229.3 L423.0 227.8 L425.0 226.2 L427.0 224.7 L429.0 223.2 L431.0 221.7 L433.0 220.1 L435.0 218.6 L437.0 217.1 L439.0 215.6 L441.0 214.1 L443.0 212.5 L445.0 211.0 L447.0 209.5 L449.0 208.0 L451.0 206.5 L453.0 205.0 L455.0 203.5 L457.0 202.0 L459.0 200.4 L461.0 198.9 L463.0 197.4 L465.0 195.9 L467.0 194.4 L469.0 192.9 L471.0 191.4 L473.0 189.9 L475.0 188.4 L477.0 186.9 L479.0 185.4 L481.0 183.9 L483.0 182.4 L485.0 180.9 L487.0 179.4 L489.0 177.9 L491.0 176.4 L493.0 174.9 L495.0 173.4 L497.0 171.9 L499.0 170.4 L501.0 169.0 L503.0 167.5 L505.0 166.0 L507.0 164.5 L509.0 163.0 L511.0 161.5 L513.0 160.0 L515.0 158.5 L517.0 157.1 L519.0 155.6 L521.0 154.1 L523.0 152.6 L525.0 151.1 L527.0 149.6 L529.0 148.2 L531.0 146.7 L533.0 145.2 L535.0 143.7 L537.0 142.2 L539.0 140.8 L541.0 139.3 L543.0 137.8 L545.0 136.3 L547.0 134.8 L549.0 133.4 L551.0 131.9 L553.0 130.4 L555.0 128.9 L557.0 127.5 L559.0 126.0 L561.0 124.5 L563.0 123.0 L565.0 121.6 L567.0 120.1 L569.0 118.6 L571.0 117.2 L573.0 115.7 L575.0 114.2 L577.0 112.7 L579.0 111.3 L581.0 109.8 L583.0 108.3 L585.0 106.9 L587.0 105.4 L589.0 103.9 L591.0 102.5 L593.0 101.0 L595.0 99.5 L597.0 98.1 L599.0 96.6 L601.0 95.1 L603.0 93.7 L605.0 92.2 L607.0 90.8 L609.0 89.3 L611.0 87.8 L613.0 86.4 L615.0 84.9 L617.0 83.4 L619.0 82.0 L621.0 80.5 L623.0 79.1 L625.0 77.6 L627.0 76.1 L629.0 74.7 L631.0 73.2 L633.0 71.8 L635.0 70.3 L637.0 68.8 L639.0 67.4 L641.0 65.9 L643.0 64.5 L645.0 63.0 L647.0 61.6 L649.0 60.1 L651.0 58.6 L653.0 57.2 L655.0 55.7 L657.0 54.3 L659.0 52.8 L661.0 51.4 L663.0 49.9 L665.0 48.4 L666.0 47.7" fill="none" stroke="#000" stroke-width="6.8" stroke-linejoin="round" stroke-linecap="round"/>
<rect x="42.7" y="26.4" width="52.9" height="37.3" fill="#fff"/>
<text transform="translate(44.43 56.06) scale(1.0160 1)" font-family="Liberation Sans" font-size="29.12" fill="#000" stroke="#000" stroke-width="0.50" stroke-linejoin="round">150</text>
<rect x="42.7" y="68.3" width="52.9" height="37.5" fill="#fff"/>
<text transform="translate(44.43 98.16) scale(1.0062 1)" font-family="Liberation Sans" font-size="29.40" fill="#000" stroke="#000" stroke-width="0.50" stroke-linejoin="round">100</text>
<rect x="41.2" y="139.0" width="37.7" height="38.7" fill="#fff"/>
<text transform="translate(43.96 170.04) scale(0.9593 1)" font-family="Liberation Sans" font-size="31.10" fill="#000" stroke="#000" stroke-width="0.52" stroke-linejoin="round">50</text>
<rect x="41.2" y="232.7" width="37.7" height="38.3" fill="#fff"/>
<text transform="translate(43.64 263.34) scale(0.9866 1)" font-family="Liberation Sans" font-size="30.53" fill="#000" stroke="#000" stroke-width="0.51" stroke-linejoin="round">20</text>
<rect x="42.7" y="304.6" width="36.2" height="37.9" fill="#fff"/>
<text transform="translate(44.45 334.85) scale(0.9803 1)" font-family="Liberation Sans" font-size="29.96" fill="#000" stroke="#000" stroke-width="0.51" stroke-linejoin="round">10</text>
<rect x="41.7" y="376.4" width="20.2" height="37.5" fill="#fff"/>
<text transform="translate(44.53 406.25) scale(0.9389 1)" font-family="Liberation Sans" font-size="29.82" fill="#000" stroke="#000" stroke-width="0.53" stroke-linejoin="round">5</text>
<rect x="41.4" y="469.8" width="20.0" height="37.6" fill="#fff"/>
<text transform="translate(43.91 500.05) scale(0.9609 1)" font-family="Liberation Sans" font-size="29.96" fill="#000" stroke="#000" stroke-width="0.52" stroke-linejoin="round">2</text>
<rect x="43.5" y="541.6" width="17.0" height="37.3" fill="#fff"/>
<text transform="translate(45.70 571.55) scale(0.7794 1)" font-family="Liberation Sans" font-size="29.96" fill="#000" stroke="#000" stroke-width="0.64" stroke-linejoin="round">1</text>
<rect x="42.2" y="605.4" width="19.4" height="27.2" fill="#fff"/>
<text transform="translate(43.18 627.11) scale(0.9438 1)" font-family="Liberation Sans" font-size="21.72" fill="#000" stroke="#000" stroke-width="0.37" stroke-linejoin="round">.5</text>
<rect x="55.3" y="628.8" width="14.7" height="27.2" fill="#fff"/>
<text transform="translate(57.11 650.73) scale(0.9764 1)" font-family="Liberation Sans" font-size="21.72" fill="#000" stroke="#000" stroke-width="0.36" stroke-linejoin="round">2</text>
<rect x="169.7" y="608.7" width="20.5" height="37.0" fill="#fff"/>
<text transform="translate(172.50 638.06) scale(0.9838 1)" font-family="Liberation Sans" font-size="29.10" fill="#000" stroke="#000" stroke-width="0.51" stroke-linejoin="round">5</text>
<rect x="259.6" y="608.7" width="34.8" height="37.0" fill="#fff"/>
<text transform="translate(261.45 638.06) scale(0.9748 1)" font-family="Liberation Sans" font-size="28.69" fill="#000" stroke="#000" stroke-width="0.51" stroke-linejoin="round">10</text>
<rect x="358.7" y="609.1" width="37.7" height="37.1" fill="#fff"/>
<text transform="translate(361.14 638.56) scale(1.0447 1)" font-family="Liberation Sans" font-size="28.83" fill="#000" stroke="#000" stroke-width="0.50" stroke-linejoin="round">20</text>
<rect x="490.9" y="609.1" width="36.9" height="37.1" fill="#fff"/>
<text transform="translate(493.69 638.56) scale(1.0077 1)" font-family="Liberation Sans" font-size="28.83" fill="#000" stroke="#000" stroke-width="0.50" stroke-linejoin="round">50</text>
<rect x="577.2" y="609.1" width="52.7" height="37.1" fill="#fff"/>
<text transform="translate(578.94 638.56) scale(1.0215 1)" font-family="Liberation Sans" font-size="28.83" fill="#000" stroke="#000" stroke-width="0.50" stroke-linejoin="round">100</text>
<rect x="423.7" y="30.5" width="47.7" height="26.5" fill="#fff"/>
<text transform="translate(426.04 51.94) scale(0.9975 1)" font-family="Liberation Sans" font-size="21.48" fill="#2a2a2a" stroke="#2a2a2a" stroke-width="0.30" stroke-linejoin="round">80%</text>
<rect x="512.0" y="30.5" width="47.7" height="26.5" fill="#fff"/>
<text transform="translate(514.17 51.94) scale(1.0014 1)" font-family="Liberation Sans" font-size="21.48" fill="#2a2a2a" stroke="#2a2a2a" stroke-width="0.30" stroke-linejoin="round">60%</text>
<rect x="574.9" y="30.5" width="47.7" height="26.5" fill="#fff"/>
<text transform="translate(577.67 51.94) scale(0.9872 1)" font-family="Liberation Sans" font-size="21.48" fill="#2a2a2a" stroke="#2a2a2a" stroke-width="0.30" stroke-linejoin="round">40%</text>
<path d="M114.50 27.80 L126.50 35.80 M114.50 35.80 L126.50 27.80" stroke="#1a1a1a" stroke-width="1.7" stroke-linecap="round"/>
<path d="M120.50 26.40 L120.50 37.20" stroke="#666" stroke-width="1.6" stroke-linecap="round"/>
<rect x="118.70" y="30.10" width="3.6" height="3.4" fill="#000"/>
<text transform="translate(130.08 48.15) scale(0.9761 1)" font-family="Liberation Sans" font-size="29.68" fill="#000" stroke="#000" stroke-width="0.51" stroke-linejoin="round">10</text>
<text transform="translate(161.95 36.34) scale(0.6520 1)" font-family="Liberation Sans" font-size="32.26" fill="#000">-</text>
<text transform="translate(169.99 34.71) scale(1.1281 1)" font-family="Liberation Sans" font-size="19.22" fill="#000">3</text>
<path d="M124.05 85.25 C132.27 85.25 137.75 91.09 137.75 99.85 C137.75 108.61 132.27 114.45 124.05 114.45 C115.83 114.45 110.35 108.61 110.35 99.85 C110.35 91.09 115.83 85.25 124.05 85.25Z" fill="none" stroke="#000" stroke-width="4.0"/>
<path d="M126.0 114.00 C126.4 120.30 128.8 122.60 132.6 122.60 L138.9 122.60" fill="none" stroke="#000" stroke-width="3.8"/>
<path d="M147.3 108.9h9.6v2.7h-3.2v20.6h3.2v2.7h-9.6v-2.7h3.2v-20.6h-3.2z" fill="#000"/>
<text transform="translate(157.86 133.21) scale(0.9241 1)" font-family="Liberation Sans" font-size="35.36" fill="#000" stroke="#000" stroke-width="0.54" stroke-linejoin="round">gG</text>
<path d="M572.80 501.75 C581.02 501.75 586.50 507.69 586.50 516.60 C586.50 525.51 581.02 531.45 572.80 531.45 C564.58 531.45 559.10 525.51 559.10 516.60 C559.10 507.69 564.58 501.75 572.80 501.75Z" fill="none" stroke="#000" stroke-width="4.0"/>
<path d="M575.0 531.20 C575.4 537.00 577.6 539.20 581.4 539.20 L587.7 539.20" fill="none" stroke="#000" stroke-width="3.8"/>
<text transform="translate(594.76 551.17) scale(0.9119 1)" font-family="Liberation Sans" font-size="37.69" fill="#000" stroke="#000" stroke-width="0.55" stroke-linejoin="round">Alb</text>
<path d="M523.20 577.00 L535.20 585.00 M523.20 585.00 L535.20 577.00" stroke="#1a1a1a" stroke-width="1.7" stroke-linecap="round"/>
<path d="M529.20 575.60 L529.20 586.40" stroke="#666" stroke-width="1.6" stroke-linecap="round"/>
<rect x="527.40" y="579.30" width="3.6" height="3.4" fill="#000"/>
<text transform="translate(538.75 596.55) scale(0.8942 1)" font-family="Liberation Sans" font-size="29.82" fill="#000" stroke="#000" stroke-width="0.56" stroke-linejoin="round">10</text>
<text transform="translate(576.93 591.14) scale(0.6008 1)" font-family="Liberation Sans" font-size="32.26" fill="#000">-</text>
<text transform="translate(583.83 588.21) scale(1.0702 1)" font-family="Liberation Sans" font-size="19.08" fill="#000">3</text>
<line x1="3" y1="721.3" x2="31.8" y2="721.3" stroke="#000" stroke-width="4.3"/>
<line x1="3" y1="730.6" x2="23.5" y2="730.6" stroke="#000" stroke-width="2.6"/>
<line x1="3" y1="735.7" x2="23.5" y2="735.7" stroke="#000" stroke-width="2.6"/>
<line x1="3" y1="743.9" x2="23.5" y2="743.9" stroke="#000" stroke-width="2.6"/>
<line x1="3" y1="753.7" x2="23.5" y2="753.7" stroke="#000" stroke-width="2.6"/>
<line x1="3" y1="762.8" x2="31.8" y2="762.8" stroke="#000" stroke-width="4.3"/>
<line x1="3" y1="773.9" x2="23.5" y2="773.9" stroke="#000" stroke-width="2.6"/>
<line x1="3" y1="787.0" x2="23.5" y2="787.0" stroke="#000" stroke-width="2.6"/>
<line x1="3" y1="802.2" x2="23.5" y2="802.2" stroke="#000" stroke-width="2.6"/>
<line x1="3" y1="815.3" x2="23.5" y2="815.3" stroke="#000" stroke-width="2.6"/>
<line x1="3" y1="834.4" x2="31.8" y2="834.4" stroke="#000" stroke-width="4.3"/>
<line x1="3" y1="857.2" x2="23.5" y2="857.2" stroke="#000" stroke-width="2.6"/>
<line x1="3" y1="887.2" x2="23.5" y2="887.2" stroke="#000" stroke-width="2.6"/>
<line x1="3" y1="928.2" x2="25" y2="928.2" stroke="#000" stroke-width="4"/>
<line x1="3" y1="999.8" x2="31.8" y2="999.8" stroke="#000" stroke-width="4.3"/>
<line x1="3" y1="1010.5" x2="23.5" y2="1010.5" stroke="#000" stroke-width="2.6"/>
<line x1="3" y1="1022.3" x2="23.5" y2="1022.3" stroke="#000" stroke-width="2.6"/>
<line x1="3" y1="1035.6" x2="23.5" y2="1035.6" stroke="#000" stroke-width="2.6"/>
<line x1="3" y1="1053.2" x2="25" y2="1053.2" stroke="#000" stroke-width="4"/>
<line x1="3" y1="1071.6" x2="31.8" y2="1071.6" stroke="#000" stroke-width="4.3"/>
<line x1="3" y1="1093.2" x2="25" y2="1093.2" stroke="#000" stroke-width="4"/>
<line x1="3" y1="1124.7" x2="25" y2="1124.7" stroke="#000" stroke-width="4"/>
<line x1="3" y1="1165.3" x2="25" y2="1165.3" stroke="#000" stroke-width="4"/>
<line x1="3" y1="1237.5" x2="31.8" y2="1237.5" stroke="#000" stroke-width="4.3"/>
<line x1="3" y1="1249.1" x2="23.5" y2="1249.1" stroke="#000" stroke-width="2.6"/>
<line x1="3" y1="1258.4" x2="23.5" y2="1258.4" stroke="#000" stroke-width="2.6"/>
<line x1="3" y1="1272.4" x2="23.5" y2="1272.4" stroke="#000" stroke-width="2.6"/>
<line x1="3" y1="1288.8" x2="23.5" y2="1288.8" stroke="#000" stroke-width="2.6"/>
<line x1="3" y1="1308.0" x2="25" y2="1308.0" stroke="#000" stroke-width="4"/>
<line x1="46.4" y1="1360.8" x2="46.4" y2="1331.8" stroke="#000" stroke-width="4.2"/>
<line x1="102.0" y1="1360.8" x2="102.0" y2="1341.1" stroke="#000" stroke-width="2.6"/>
<line x1="143.6" y1="1360.8" x2="143.6" y2="1341.1" stroke="#000" stroke-width="2.6"/>
<line x1="179.6" y1="1360.8" x2="179.6" y2="1331.8" stroke="#000" stroke-width="4.2"/>
<line x1="200.5" y1="1360.8" x2="200.5" y2="1339.8" stroke="#000" stroke-width="3"/>
<line x1="224.0" y1="1360.8" x2="224.0" y2="1341.1" stroke="#000" stroke-width="2.6"/>
<line x1="242.2" y1="1360.8" x2="242.2" y2="1341.1" stroke="#000" stroke-width="2.6"/>
<line x1="258.7" y1="1360.8" x2="258.7" y2="1341.1" stroke="#000" stroke-width="2.6"/>
<line x1="278.1" y1="1360.8" x2="278.1" y2="1331.8" stroke="#000" stroke-width="4.2"/>
<line x1="375.3" y1="1360.8" x2="375.3" y2="1339.8" stroke="#000" stroke-width="3"/>
<line x1="432.4" y1="1360.8" x2="432.4" y2="1341.1" stroke="#000" stroke-width="2.6"/>
<line x1="474.1" y1="1360.8" x2="474.1" y2="1341.1" stroke="#000" stroke-width="2.6"/>
<line x1="510.1" y1="1360.8" x2="510.1" y2="1331.8" stroke="#000" stroke-width="4.2"/>
<line x1="532.6" y1="1360.8" x2="532.6" y2="1341.1" stroke="#000" stroke-width="2.6"/>
<line x1="554.0" y1="1360.8" x2="554.0" y2="1341.1" stroke="#000" stroke-width="2.6"/>
<line x1="572.6" y1="1360.8" x2="572.6" y2="1339.8" stroke="#000" stroke-width="3"/>
<line x1="589.4" y1="1360.8" x2="589.4" y2="1339.8" stroke="#000" stroke-width="3"/>
<line x1="608.6" y1="1360.8" x2="608.6" y2="1331.8" stroke="#000" stroke-width="4.2"/>
<line x1="620.8" y1="1360.8" x2="620.8" y2="1339.8" stroke="#000" stroke-width="3"/>
<line x1="631.0" y1="1360.8" x2="631.0" y2="1341.1" stroke="#000" stroke-width="2.6"/>
<line x1="644.4" y1="1360.8" x2="644.4" y2="1339.8" stroke="#000" stroke-width="3"/>
<line x1="652.6" y1="1360.8" x2="652.6" y2="1339.8" stroke="#000" stroke-width="3"/>
<line x1="667.0" y1="1360.8" x2="667.0" y2="1331.8" stroke="#000" stroke-width="4.2"/>
<line x1="243.3" y1="1094.7" x2="243.3" y2="1277.1" stroke="#b0b0b0" stroke-width="3.8"/>
<line x1="265.3" y1="1074.3" x2="265.3" y2="1255.9" stroke="#b0b0b0" stroke-width="3.8"/>
<line x1="287.3" y1="1054.1" x2="287.3" y2="1234.3" stroke="#b0b0b0" stroke-width="3.8"/>
<line x1="309.3" y1="1034.2" x2="309.3" y2="1212.6" stroke="#b0b0b0" stroke-width="3.8"/>
<line x1="331.3" y1="1014.7" x2="331.3" y2="1191.1" stroke="#b0b0b0" stroke-width="3.8"/>
<line x1="353.3" y1="995.5" x2="353.3" y2="1169.8" stroke="#b0b0b0" stroke-width="3.8"/>
<line x1="375.3" y1="976.7" x2="375.3" y2="1149.0" stroke="#b0b0b0" stroke-width="3.8"/>
<line x1="397.3" y1="958.2" x2="397.3" y2="1128.6" stroke="#b0b0b0" stroke-width="3.8"/>
<line x1="419.3" y1="940.1" x2="419.3" y2="1108.7" stroke="#b0b0b0" stroke-width="3.8"/>
<line x1="441.3" y1="922.3" x2="441.3" y2="1089.2" stroke="#b0b0b0" stroke-width="3.8"/>
<line x1="463.3" y1="904.7" x2="463.3" y2="1070.2" stroke="#b0b0b0" stroke-width="3.8"/>
<line x1="485.3" y1="887.4" x2="485.3" y2="1051.6" stroke="#b0b0b0" stroke-width="3.8"/>
<line x1="507.3" y1="870.2" x2="507.3" y2="1033.3" stroke="#b0b0b0" stroke-width="3.8"/>
<line x1="529.3" y1="853.3" x2="529.3" y2="1015.4" stroke="#b0b0b0" stroke-width="3.8"/>
<line x1="551.3" y1="836.5" x2="551.3" y2="997.7" stroke="#b0b0b0" stroke-width="3.8"/>
<line x1="573.3" y1="819.8" x2="573.3" y2="980.3" stroke="#b0b0b0" stroke-width="3.8"/>
<line x1="595.3" y1="803.3" x2="595.3" y2="963.1" stroke="#b0b0b0" stroke-width="3.8"/>
<line x1="617.3" y1="786.8" x2="617.3" y2="946.1" stroke="#b0b0b0" stroke-width="3.8"/>
<line x1="639.3" y1="770.5" x2="639.3" y2="929.2" stroke="#b0b0b0" stroke-width="3.8"/>
<line x1="661.3" y1="754.2" x2="661.3" y2="912.5" stroke="#b0b0b0" stroke-width="3.8"/>
<path d="M205.1 1312.0 L207.1 1310.3 L209.1 1308.5 L211.1 1306.7 L213.1 1305.0 L215.1 1303.2 L217.1 1301.4 L219.1 1299.6 L221.1 1297.8 L223.1 1295.9 L225.1 1294.1 L227.1 1292.3 L229.1 1290.4 L231.1 1288.6 L233.1 1286.7 L235.1 1284.8 L237.1 1282.9 L239.1 1281.1 L241.1 1279.2 L243.1 1277.3 L245.1 1275.4 L247.1 1273.4 L249.1 1271.5 L251.1 1269.6 L253.1 1267.7 L255.1 1265.8 L257.1 1263.8 L259.1 1261.9 L261.1 1259.9 L263.1 1258.0 L265.1 1256.0 L267.1 1254.1 L269.1 1252.1 L271.1 1250.2 L273.1 1248.2 L275.1 1246.3 L277.1 1244.3 L279.1 1242.3 L281.1 1240.4 L283.1 1238.4 L285.1 1236.4 L287.1 1234.5 L289.1 1232.5 L291.1 1230.5 L293.1 1228.5 L295.1 1226.6 L297.1 1224.6 L299.1 1222.6 L301.1 1220.7 L303.1 1218.7 L305.1 1216.7 L307.1 1214.8 L309.1 1212.8 L311.1 1210.8 L313.1 1208.9 L315.1 1206.9 L317.1 1204.9 L319.1 1203.0 L321.1 1201.0 L323.1 1199.1 L325.1 1197.1 L327.1 1195.1 L329.1 1193.2 L331.1 1191.3 L333.1 1189.3 L335.1 1187.4 L337.1 1185.4 L339.1 1183.5 L341.1 1181.6 L343.1 1179.6 L345.1 1177.7 L347.1 1175.8 L349.1 1173.9 L351.1 1171.9 L353.1 1170.0 L355.1 1168.1 L357.1 1166.2 L359.1 1164.3 L361.1 1162.4 L363.1 1160.5 L365.1 1158.6 L367.1 1156.7 L369.1 1154.8 L371.1 1152.9 L373.1 1151.1 L375.1 1149.2 L377.1 1147.3 L379.1 1145.4 L381.1 1143.6 L383.1 1141.7 L385.1 1139.9 L387.1 1138.0 L389.1 1136.2 L391.1 1134.3 L393.1 1132.5 L395.1 1130.6 L397.1 1128.8 L399.1 1127.0 L401.1 1125.1 L403.1 1123.3 L405.1 1121.5 L407.1 1119.7 L409.1 1117.9 L411.1 1116.1 L413.1 1114.3 L415.1 1112.5 L417.1 1110.7 L419.1 1108.9 L421.1 1107.1 L423.1 1105.3 L425.1 1103.5 L427.1 1101.8 L429.1 1100.0 L431.1 1098.2 L433.1 1096.4 L435.1 1094.7 L437.1 1092.9 L439.1 1091.2 L441.1 1089.4 L443.1 1087.7 L445.1 1085.9 L447.1 1084.2 L449.1 1082.5 L451.1 1080.7 L453.1 1079.0 L455.1 1077.3 L457.1 1075.5 L459.1 1073.8 L461.1 1072.1 L463.1 1070.4 L465.1 1068.7 L467.1 1067.0 L469.1 1065.3 L471.1 1063.6 L473.1 1061.9 L475.1 1060.2 L477.1 1058.5 L479.1 1056.8 L481.1 1055.1 L483.1 1053.4 L485.1 1051.8 L487.1 1050.1 L489.1 1048.4 L491.1 1046.7 L493.1 1045.1 L495.1 1043.4 L497.1 1041.7 L499.1 1040.1 L501.1 1038.4 L503.1 1036.8 L505.1 1035.1 L507.1 1033.5 L509.1 1031.8 L511.1 1030.2 L513.1 1028.6 L515.1 1026.9 L517.1 1025.3 L519.1 1023.7 L521.1 1022.0 L523.1 1020.4 L525.1 1018.8 L527.1 1017.1 L529.1 1015.5 L531.1 1013.9 L533.1 1012.3 L535.1 1010.7 L537.1 1009.1 L539.1 1007.5 L541.1 1005.9 L543.1 1004.3 L545.1 1002.7 L547.1 1001.1 L549.1 999.5 L551.1 997.9 L553.1 996.3 L555.1 994.7 L557.1 993.1 L559.1 991.5 L561.1 989.9 L563.1 988.3 L565.1 986.7 L567.1 985.2 L569.1 983.6 L571.1 982.0 L573.1 980.4 L575.1 978.9 L577.1 977.3 L579.1 975.7 L581.1 974.2 L583.1 972.6 L585.1 971.0 L587.1 969.5 L589.1 967.9 L591.1 966.4 L593.1 964.8 L595.1 963.2 L597.1 961.7 L599.1 960.1 L601.1 958.6 L603.1 957.0 L605.1 955.5 L607.1 953.9 L609.1 952.4 L611.1 950.9 L613.1 949.3 L615.1 947.8 L617.1 946.2 L619.1 944.7 L621.1 943.2 L623.1 941.6 L625.1 940.1 L627.1 938.6 L629.1 937.0 L631.1 935.5 L633.1 934.0 L635.1 932.4 L637.1 930.9 L639.1 929.4 L641.1 927.9 L643.1 926.3 L645.1 924.8 L647.1 923.3 L649.1 921.8 L651.1 920.3 L653.1 918.8 L655.1 917.2 L657.1 915.7 L659.1 914.2 L661.1 912.7 L662.0 912.0" fill="none" stroke="#aaaaaa" stroke-width="2.7" stroke-linejoin="round" />
<path d="M10.9 1241.6 L12.9 1240.8 L14.9 1240.0 L16.9 1239.2 L18.9 1238.4 L20.9 1237.5 L22.9 1236.7 L24.9 1235.8 L26.9 1234.9 L28.9 1234.0 L30.9 1233.1 L32.9 1232.1 L34.9 1231.2 L36.9 1230.2 L38.9 1229.2 L40.9 1228.2 L42.9 1227.2 L44.9 1226.2 L46.9 1225.1 L48.9 1224.1 L50.9 1223.0 L52.9 1221.9 L54.9 1220.8 L56.9 1219.7 L58.9 1218.6 L60.9 1217.4 L62.9 1216.2 L64.9 1215.1 L66.9 1213.9 L68.9 1212.8 L70.9 1211.6 L72.9 1210.4 L74.9 1209.2 L76.9 1208.0 L78.9 1206.7 L80.9 1205.5 L82.9 1204.2 L84.9 1202.9 L86.9 1201.6 L88.9 1200.3 L90.9 1199.0 L92.9 1197.6 L94.9 1196.3 L96.9 1194.9 L98.9 1193.5 L100.9 1192.1 L102.9 1190.6 L104.9 1189.2 L106.9 1188.0 L108.9 1186.8 L110.9 1185.6 L112.9 1184.4 L114.9 1183.1 L116.9 1181.9 L118.9 1180.6 L120.9 1179.3 L122.9 1178.0 L124.9 1176.7 L126.9 1175.4 L128.9 1174.1 L130.9 1172.7 L132.9 1171.4 L134.9 1170.0 L136.9 1168.6 L138.9 1167.2 L140.9 1165.8 L142.9 1164.4 L144.9 1163.0 L146.9 1161.5 L148.9 1160.1 L150.9 1158.6 L152.9 1156.9 L154.9 1155.3 L156.9 1153.6 L158.9 1151.9 L160.9 1150.2 L162.9 1148.6 L164.9 1146.9 L166.9 1145.2 L168.9 1143.4 L170.9 1141.7 L172.9 1140.0 L174.9 1138.3 L176.9 1136.5 L178.9 1134.8 L180.9 1133.0 L182.9 1131.3 L184.9 1129.5 L186.9 1127.7 L188.9 1126.0 L190.9 1124.2 L192.9 1122.4 L194.9 1120.6 L196.9 1118.8 L198.9 1117.1 L200.9 1115.2 L202.9 1113.4 L204.9 1111.6 L206.9 1109.7 L208.9 1107.9 L210.9 1106.0 L212.9 1104.2 L214.9 1102.3 L216.9 1100.5 L218.9 1098.6 L220.9 1096.7 L222.9 1094.9 L224.9 1093.0 L226.9 1091.2 L228.9 1089.3 L230.9 1087.4 L232.9 1085.6 L234.9 1083.7 L236.9 1081.9 L238.9 1080.0 L240.9 1078.1 L242.9 1076.3 L244.9 1074.4 L246.9 1072.5 L248.9 1070.7 L250.9 1068.8 L252.9 1067.0 L254.9 1065.1 L256.9 1063.3 L258.9 1061.4 L260.9 1059.6 L262.9 1057.7 L264.9 1055.9 L266.9 1054.0 L268.9 1052.2 L270.9 1050.3 L272.9 1048.5 L274.9 1046.6 L276.9 1044.8 L278.9 1043.0 L280.9 1041.1 L282.9 1039.3 L284.9 1037.5 L286.9 1035.7 L288.9 1033.8 L290.9 1032.0 L292.9 1030.2 L294.9 1028.4 L296.9 1026.6 L298.9 1024.8 L300.9 1023.0 L302.9 1021.2 L304.9 1019.4 L306.9 1017.6 L308.9 1015.8 L310.9 1014.0 L312.9 1012.2 L314.9 1010.4 L316.9 1008.6 L318.9 1006.8 L320.9 1005.1 L322.9 1003.3 L324.9 1001.5 L326.9 999.7 L328.9 998.0 L330.9 996.2 L332.9 994.5 L334.9 992.7 L336.9 991.0 L338.9 989.2 L340.9 987.5 L342.9 985.7 L344.9 984.0 L346.9 982.2 L348.9 980.5 L350.9 978.8 L352.9 977.0 L354.9 975.3 L356.9 973.6 L358.9 971.9 L360.9 970.2 L362.9 968.4 L364.9 966.7 L366.9 965.0 L368.9 963.3 L370.9 961.6 L372.9 959.9 L374.9 958.2 L376.9 956.5 L378.9 954.9 L380.9 953.2 L382.9 951.5 L384.9 949.8 L386.9 948.1 L388.9 946.5 L390.9 944.8 L392.9 943.1 L394.9 941.4 L396.9 939.8 L398.9 938.1 L400.9 936.5 L402.9 934.8 L404.9 933.1 L406.9 931.5 L408.9 929.8 L410.9 928.2 L412.9 926.6 L414.9 924.9 L416.9 923.3 L418.9 921.6 L420.9 920.0 L422.9 918.4 L424.9 916.7 L426.9 915.1 L428.9 913.5 L430.9 911.9 L432.9 910.3 L434.9 908.6 L436.9 907.0 L438.9 905.4 L440.9 903.8 L442.9 902.2 L444.9 900.6 L446.9 899.0 L448.9 897.4 L450.9 895.8 L452.9 894.2 L454.9 892.6 L456.9 891.0 L458.9 889.4 L460.9 887.8 L462.9 886.2 L464.9 884.6 L466.9 883.0 L468.9 881.5 L470.9 879.9 L472.9 878.3 L474.9 876.7 L476.9 875.2 L478.9 873.6 L480.9 872.0 L482.9 870.4 L484.9 868.9 L486.9 867.3 L488.9 865.7 L490.9 864.2 L492.9 862.6 L494.9 861.1 L496.9 859.5 L498.9 857.9 L500.9 856.4 L502.9 854.8 L504.9 853.3 L506.9 851.7 L508.9 850.2 L510.9 848.6 L512.9 847.1 L514.9 845.5 L516.9 844.0 L518.9 842.5 L520.9 840.9 L522.9 839.4 L524.9 837.8 L526.9 836.3 L528.9 834.8 L530.9 833.2 L532.9 831.7 L534.9 830.2 L536.9 828.6 L538.9 827.1 L540.9 825.6 L542.9 824.1 L544.9 822.5 L546.9 821.0 L548.9 819.5 L550.9 818.0 L552.9 816.4 L554.9 814.9 L556.9 813.4 L558.9 811.9 L560.9 810.4 L562.9 808.9 L564.9 807.3 L566.9 805.8 L568.9 804.3 L570.9 802.8 L572.9 801.3 L574.9 799.8 L576.9 798.3 L578.9 796.8 L580.9 795.3 L582.9 793.8 L584.9 792.3 L586.9 790.8 L588.9 789.2 L590.9 787.7 L592.9 786.2 L594.9 784.7 L596.9 783.2 L598.9 781.7 L600.9 780.3 L602.9 778.8 L604.9 777.3 L606.9 775.8 L608.9 774.3 L610.9 772.8 L612.9 771.3 L614.9 769.8 L616.9 768.3 L618.9 766.8 L620.9 765.3 L622.9 763.8 L624.9 762.3 L626.9 760.9 L628.9 759.4 L630.9 757.9 L632.9 756.4 L634.9 754.9 L636.9 753.4 L638.9 751.9 L640.9 750.5 L642.9 749.0 L644.9 747.5 L646.9 746.0 L648.9 744.5 L650.9 743.1 L652.9 741.6 L654.9 740.1 L656.9 738.6 L658.9 737.1 L660.9 735.7 L662.9 734.2 L664.9 732.7 L666.0 731.9" fill="none" stroke="#aaaaaa" stroke-width="2.7" stroke-linejoin="round" />
<path d="M10.9 1208.4 L12.9 1207.6 L14.9 1206.9 L16.9 1206.1 L18.9 1205.3 L20.9 1204.5 L22.9 1203.6 L24.9 1202.8 L26.9 1201.9 L28.9 1201.1 L30.9 1200.2 L32.9 1199.3 L34.9 1198.3 L36.9 1197.4 L38.9 1196.5 L40.9 1195.5 L42.9 1194.5 L44.9 1193.5 L46.9 1192.5 L48.9 1191.5 L50.9 1190.4 L52.9 1189.4 L54.9 1188.3 L56.9 1187.2 L58.9 1186.1 L60.9 1185.0 L62.9 1183.8 L64.9 1182.7 L66.9 1181.6 L68.9 1180.4 L70.9 1179.3 L72.9 1178.1 L74.9 1176.9 L76.9 1175.7 L78.9 1174.5 L80.9 1173.2 L82.9 1172.0 L84.9 1170.7 L86.9 1169.4 L88.9 1168.1 L90.9 1166.8 L92.9 1165.5 L94.9 1164.1 L96.9 1162.7 L98.9 1161.4 L100.9 1160.0 L102.9 1158.5 L104.9 1157.1 L106.9 1155.9 L108.9 1154.6 L110.9 1153.3 L112.9 1152.0 L114.9 1150.7 L116.9 1149.4 L118.9 1148.1 L120.9 1146.7 L122.9 1145.3 L124.9 1144.0 L126.9 1142.6 L128.9 1141.2 L130.9 1139.8 L132.9 1138.3 L134.9 1136.9 L136.9 1135.5 L138.9 1134.0 L140.9 1132.5 L142.9 1131.1 L144.9 1129.6 L146.9 1128.1 L148.9 1126.6 L150.9 1125.0 L152.9 1123.3 L154.9 1121.7 L156.9 1120.0 L158.9 1118.3 L160.9 1116.6 L162.9 1114.9 L164.9 1113.2 L166.9 1111.5 L168.9 1109.7 L170.9 1108.0 L172.9 1106.3 L174.9 1104.5 L176.9 1102.8 L178.9 1101.0 L180.9 1099.3 L182.9 1097.5 L184.9 1095.7 L186.9 1093.9 L188.9 1092.2 L190.9 1090.4 L192.9 1088.6 L194.9 1086.8 L196.9 1085.0 L198.9 1083.2 L200.9 1081.4 L202.9 1079.5 L204.9 1077.7 L206.9 1075.8 L208.9 1074.0 L210.9 1072.1 L212.9 1070.3 L214.9 1068.4 L216.9 1066.6 L218.9 1064.7 L220.9 1062.9 L222.9 1061.0 L224.9 1059.1 L226.9 1057.3 L228.9 1055.4 L230.9 1053.6 L232.9 1051.7 L234.9 1049.8 L236.9 1048.0 L238.9 1046.1 L240.9 1044.2 L242.9 1042.4 L244.9 1040.5 L246.9 1038.7 L248.9 1036.8 L250.9 1034.9 L252.9 1033.1 L254.9 1031.2 L256.9 1029.4 L258.9 1027.5 L260.9 1025.7 L262.9 1023.8 L264.9 1022.0 L266.9 1020.1 L268.9 1018.3 L270.9 1016.4 L272.9 1014.6 L274.9 1012.8 L276.9 1010.9 L278.9 1009.1 L280.9 1007.3 L282.9 1005.4 L284.9 1003.6 L286.9 1001.8 L288.9 999.9 L290.9 998.1 L292.9 996.3 L294.9 994.5 L296.9 992.7 L298.9 990.9 L300.9 989.1 L302.9 987.3 L304.9 985.5 L306.9 983.7 L308.9 981.9 L310.9 980.1 L312.9 978.3 L314.9 976.5 L316.9 974.7 L318.9 972.9 L320.9 971.2 L322.9 969.4 L324.9 967.6 L326.9 965.9 L328.9 964.1 L330.9 962.3 L332.9 960.6 L334.9 958.8 L336.9 957.1 L338.9 955.3 L340.9 953.6 L342.9 951.8 L344.9 950.1 L346.9 948.4 L348.9 946.6 L350.9 944.9 L352.9 943.2 L354.9 941.4 L356.9 939.7 L358.9 938.0 L360.9 936.3 L362.9 934.6 L364.9 932.9 L366.9 931.1 L368.9 929.4 L370.9 927.7 L372.9 926.0 L374.9 924.4 L376.9 922.7 L378.9 921.0 L380.9 919.3 L382.9 917.6 L384.9 915.9 L386.9 914.2 L388.9 912.6 L390.9 910.9 L392.9 909.2 L394.9 907.6 L396.9 905.9 L398.9 904.2 L400.9 902.6 L402.9 900.9 L404.9 899.3 L406.9 897.6 L408.9 896.0 L410.9 894.3 L412.9 892.7 L414.9 891.0 L416.9 889.4 L418.9 887.8 L420.9 886.1 L422.9 884.5 L424.9 882.9 L426.9 881.2 L428.9 879.6 L430.9 878.0 L432.9 876.4 L434.9 874.8 L436.9 873.1 L438.9 871.5 L440.9 869.9 L442.9 868.3 L444.9 866.7 L446.9 865.1 L448.9 863.5 L450.9 861.9 L452.9 860.3 L454.9 858.7 L456.9 857.1 L458.9 855.5 L460.9 853.9 L462.9 852.3 L464.9 850.7 L466.9 849.2 L468.9 847.6 L470.9 846.0 L472.9 844.4 L474.9 842.8 L476.9 841.3 L478.9 839.7 L480.9 838.1 L482.9 836.6 L484.9 835.0 L486.9 833.4 L488.9 831.9 L490.9 830.3 L492.9 828.7 L494.9 827.2 L496.9 825.6 L498.9 824.1 L500.9 822.5 L502.9 820.9 L504.9 819.4 L506.9 817.8 L508.9 816.3 L510.9 814.7 L512.9 813.2 L514.9 811.7 L516.9 810.1 L518.9 808.6 L520.9 807.0 L522.9 805.5 L524.9 804.0 L526.9 802.4 L528.9 800.9 L530.9 799.3 L532.9 797.8 L534.9 796.3 L536.9 794.8 L538.9 793.2 L540.9 791.7 L542.9 790.2 L544.9 788.6 L546.9 787.1 L548.9 785.6 L550.9 784.1 L552.9 782.6 L554.9 781.0 L556.9 779.5 L558.9 778.0 L560.9 776.5 L562.9 775.0 L564.9 773.5 L566.9 771.9 L568.9 770.4 L570.9 768.9 L572.9 767.4 L574.9 765.9 L576.9 764.4 L578.9 762.9 L580.9 761.4 L582.9 759.9 L584.9 758.4 L586.9 756.9 L588.9 755.4 L590.9 753.9 L592.9 752.4 L594.9 750.9 L596.9 749.4 L598.9 747.9 L600.9 746.4 L602.9 744.9 L604.9 743.4 L606.9 741.9 L608.9 740.4 L610.9 738.9 L612.5 737.7" fill="none" stroke="#aaaaaa" stroke-width="2.7" stroke-linejoin="round" />
<path d="M10.9 1169.5 L12.9 1168.8 L14.9 1168.0 L16.9 1167.2 L18.9 1166.4 L20.9 1165.6 L22.9 1164.7 L24.9 1163.9 L26.9 1163.0 L28.9 1162.2 L30.9 1161.3 L32.9 1160.4 L34.9 1159.5 L36.9 1158.5 L38.9 1157.6 L40.9 1156.6 L42.9 1155.6 L44.9 1154.6 L46.9 1153.6 L48.9 1152.6 L50.9 1151.5 L52.9 1150.5 L54.9 1149.4 L56.9 1148.3 L58.9 1147.2 L60.9 1146.1 L62.9 1144.9 L64.9 1143.8 L66.9 1142.7 L68.9 1141.6 L70.9 1140.4 L72.9 1139.2 L74.9 1138.0 L76.9 1136.8 L78.9 1135.6 L80.9 1134.3 L82.9 1133.1 L84.9 1131.8 L86.9 1130.5 L88.9 1129.2 L90.9 1127.9 L92.9 1126.6 L94.9 1125.2 L96.9 1123.8 L98.9 1122.5 L100.9 1121.1 L102.9 1119.7 L104.9 1118.2 L106.9 1117.0 L108.9 1115.7 L110.9 1114.4 L112.9 1113.1 L114.9 1111.8 L116.9 1110.5 L118.9 1109.2 L120.9 1107.8 L122.9 1106.5 L124.9 1105.1 L126.9 1103.7 L128.9 1102.3 L130.9 1100.9 L132.9 1099.5 L134.9 1098.0 L136.9 1096.6 L138.9 1095.1 L140.9 1093.6 L142.9 1092.2 L144.9 1090.7 L146.9 1089.2 L148.9 1087.7 L150.9 1086.1 L152.9 1084.4 L154.9 1082.8 L156.9 1081.1 L158.9 1079.4 L160.9 1077.7 L162.9 1076.0 L164.9 1074.3 L166.9 1072.6 L168.9 1070.9 L170.9 1069.1 L172.9 1067.4 L174.9 1065.6 L176.9 1063.9 L178.9 1062.1 L180.9 1060.4 L182.9 1058.6 L184.9 1056.8 L186.9 1055.0 L188.9 1053.3 L190.9 1051.5 L192.9 1049.7 L194.9 1047.9 L196.9 1046.1 L198.9 1044.3 L200.9 1042.5 L202.9 1040.6 L204.9 1038.8 L206.9 1036.9 L208.9 1035.1 L210.9 1033.2 L212.9 1031.4 L214.9 1029.5 L216.9 1027.7 L218.9 1025.8 L220.9 1024.0 L222.9 1022.1 L224.9 1020.2 L226.9 1018.4 L228.9 1016.5 L230.9 1014.7 L232.9 1012.8 L234.9 1010.9 L236.9 1009.1 L238.9 1007.2 L240.9 1005.4 L242.9 1003.5 L244.9 1001.6 L246.9 999.8 L248.9 997.9 L250.9 996.1 L252.9 994.2 L254.9 992.3 L256.9 990.5 L258.9 988.6 L260.9 986.8 L262.9 984.9 L264.9 983.1 L266.9 981.2 L268.9 979.4 L270.9 977.5 L272.9 975.7 L274.9 973.9 L276.9 972.0 L278.9 970.2 L280.9 968.4 L282.9 966.5 L284.9 964.7 L286.9 962.9 L288.9 961.1 L290.9 959.2 L292.9 957.4 L294.9 955.6 L296.9 953.8 L298.9 952.0 L300.9 950.2 L302.9 948.4 L304.9 946.6 L306.9 944.8 L308.9 943.0 L310.9 941.2 L312.9 939.4 L314.9 937.6 L316.9 935.8 L318.9 934.1 L320.9 932.3 L322.9 930.5 L324.9 928.7 L326.9 927.0 L328.9 925.2 L330.9 923.4 L332.9 921.7 L334.9 919.9 L336.9 918.2 L338.9 916.4 L340.9 914.7 L342.9 912.9 L344.9 911.2 L346.9 909.5 L348.9 907.7 L350.9 906.0 L352.9 904.3 L354.9 902.5 L356.9 900.8 L358.9 899.1 L360.9 897.4 L362.9 895.7 L364.9 894.0 L366.9 892.3 L368.9 890.6 L370.9 888.9 L372.9 887.2 L374.9 885.5 L376.9 883.8 L378.9 882.1 L380.9 880.4 L382.9 878.7 L384.9 877.0 L386.9 875.3 L388.9 873.7 L390.9 872.0 L392.9 870.3 L394.9 868.7 L396.9 867.0 L398.9 865.3 L400.9 863.7 L402.9 862.0 L404.9 860.4 L406.9 858.7 L408.9 857.1 L410.9 855.4 L412.9 853.8 L414.9 852.1 L416.9 850.5 L418.9 848.9 L420.9 847.2 L422.9 845.6 L424.9 844.0 L426.9 842.3 L428.9 840.7 L430.9 839.1 L432.9 837.5 L434.9 835.9 L436.9 834.2 L438.9 832.6 L440.9 831.0 L442.9 829.4 L444.9 827.8 L446.9 826.2 L448.9 824.6 L450.9 823.0 L452.9 821.4 L454.9 819.8 L456.9 818.2 L458.9 816.6 L460.9 815.0 L462.9 813.4 L464.9 811.9 L466.9 810.3 L468.9 808.7 L470.9 807.1 L472.9 805.5 L474.9 804.0 L476.9 802.4 L478.9 800.8 L480.9 799.2 L482.9 797.7 L484.9 796.1 L486.9 794.5 L488.9 793.0 L490.9 791.4 L492.9 789.8 L494.9 788.3 L496.9 786.7 L498.9 785.2 L500.9 783.6 L502.9 782.1 L504.9 780.5 L506.9 779.0 L508.9 777.4 L510.9 775.9 L512.9 774.3 L514.9 772.8 L516.9 771.2 L518.9 769.7 L520.9 768.1 L522.9 766.6 L524.9 765.1 L526.9 763.5 L528.9 762.0 L530.9 760.5 L532.9 758.9 L534.9 757.4 L536.9 755.9 L538.9 754.3 L540.9 752.8 L542.9 751.3 L544.9 749.8 L546.9 748.2 L548.9 746.7 L550.9 745.2 L552.9 743.7 L554.9 742.1 L556.9 740.6 L558.9 739.1 L560.8 737.7" fill="none" stroke="#aaaaaa" stroke-width="2.7" stroke-linejoin="round" />
<path d="M10.9 1097.0 L12.9 1096.2 L14.9 1095.4 L16.9 1094.6 L18.9 1093.8 L20.9 1093.0 L22.9 1092.2 L24.9 1091.3 L26.9 1090.5 L28.9 1089.6 L30.9 1088.7 L32.9 1087.8 L34.9 1086.9 L36.9 1086.0 L38.9 1085.0 L40.9 1084.1 L42.9 1083.1 L44.9 1082.1 L46.9 1081.1 L48.9 1080.0 L50.9 1079.0 L52.9 1077.9 L54.9 1076.9 L56.9 1075.8 L58.9 1074.7 L60.9 1073.5 L62.9 1072.4 L64.9 1071.3 L66.9 1070.2 L68.9 1069.0 L70.9 1067.8 L72.9 1066.7 L74.9 1065.5 L76.9 1064.3 L78.9 1063.0 L80.9 1061.8 L82.9 1060.5 L84.9 1059.3 L86.9 1058.0 L88.9 1056.7 L90.9 1055.3 L92.9 1054.0 L94.9 1052.7 L96.9 1051.3 L98.9 1049.9 L100.9 1048.5 L102.9 1047.1 L104.9 1045.7 L106.9 1044.4 L108.9 1043.2 L110.9 1041.9 L112.9 1040.6 L114.9 1039.3 L116.9 1037.9 L118.9 1036.6 L120.9 1035.3 L122.9 1033.9 L124.9 1032.5 L126.9 1031.1 L128.9 1029.7 L130.9 1028.3 L132.9 1026.9 L134.9 1025.5 L136.9 1024.0 L138.9 1022.6 L140.9 1021.1 L142.9 1019.6 L144.9 1018.1 L146.9 1016.6 L148.9 1015.1 L150.9 1013.5 L152.9 1011.9 L154.9 1010.2 L156.9 1008.5 L158.9 1006.8 L160.9 1005.2 L162.9 1003.5 L164.9 1001.7 L166.9 1000.0 L168.9 998.3 L170.9 996.6 L172.9 994.8 L174.9 993.1 L176.9 991.3 L178.9 989.6 L180.9 987.8 L182.9 986.1 L184.9 984.3 L186.9 982.5 L188.9 980.7 L190.9 978.9 L192.9 977.1 L194.9 975.3 L196.9 973.5 L198.9 971.7 L200.9 969.9 L202.9 968.1 L204.9 966.2 L206.9 964.4 L208.9 962.5 L210.9 960.7 L212.9 958.8 L214.9 957.0 L216.9 955.1 L218.9 953.3 L220.9 951.4 L222.9 949.6 L224.9 947.7 L226.9 945.8 L228.9 944.0 L230.9 942.1 L232.9 940.3 L234.9 938.4 L236.9 936.5 L238.9 934.7 L240.9 932.8 L242.9 930.9 L244.9 929.1 L246.9 927.2 L248.9 925.4 L250.9 923.5 L252.9 921.6 L254.9 919.8 L256.9 917.9 L258.9 916.1 L260.9 914.2 L262.9 912.4 L264.9 910.5 L266.9 908.7 L268.9 906.8 L270.9 905.0 L272.9 903.2 L274.9 901.3 L276.9 899.5 L278.9 897.6 L280.9 895.8 L282.9 894.0 L284.9 892.2 L286.9 890.3 L288.9 888.5 L290.9 886.7 L292.9 884.9 L294.9 883.1 L296.9 881.2 L298.9 879.4 L300.9 877.6 L302.9 875.8 L304.9 874.0 L306.9 872.2 L308.9 870.4 L310.9 868.6 L312.9 866.9 L314.9 865.1 L316.9 863.3 L318.9 861.5 L320.9 859.7 L322.9 858.0 L324.9 856.2 L326.9 854.4 L328.9 852.7 L330.9 850.9 L332.9 849.1 L334.9 847.4 L336.9 845.6 L338.9 843.9 L340.9 842.1 L342.9 840.4 L344.9 838.6 L346.9 836.9 L348.9 835.2 L350.9 833.4 L352.9 831.7 L354.9 830.0 L356.9 828.3 L358.9 826.6 L360.9 824.8 L362.9 823.1 L364.9 821.4 L366.9 819.7 L368.9 818.0 L370.9 816.3 L372.9 814.6 L374.9 812.9 L376.9 811.2 L378.9 809.5 L380.9 807.8 L382.9 806.2 L384.9 804.5 L386.9 802.8 L388.9 801.1 L390.9 799.5 L392.9 797.8 L394.9 796.1 L396.9 794.5 L398.9 792.8 L400.9 791.1 L402.9 789.5 L404.9 787.8 L406.9 786.2 L408.9 784.5 L410.9 782.9 L412.9 781.2 L414.9 779.6 L416.9 777.9 L418.9 776.3 L420.9 774.7 L422.9 773.0 L424.9 771.4 L426.9 769.8 L428.9 768.2 L430.9 766.5 L432.9 764.9 L434.9 763.3 L436.9 761.7 L438.9 760.1 L440.9 758.5 L442.9 756.9 L444.9 755.3 L446.9 753.7 L448.9 752.0 L450.9 750.4 L452.9 748.8 L454.9 747.3 L456.9 745.7 L458.9 744.1 L460.9 742.5 L462.9 740.9 L464.9 739.3 L466.9 737.7 L466.9 737.7" fill="none" stroke="#aaaaaa" stroke-width="2.7" stroke-linejoin="round" />
<path d="M3.0 1263.2 L5.0 1262.6 L7.0 1261.9 L9.0 1261.2 L11.0 1260.4 L13.0 1259.6 L15.0 1258.8 L17.0 1258.0 L19.0 1257.1 L21.0 1256.3 L23.0 1255.4 L25.0 1254.5 L27.0 1253.7 L29.0 1252.7 L31.0 1251.8 L33.0 1250.9 L35.0 1249.9 L37.0 1249.0 L39.0 1248.0 L41.0 1247.0 L43.0 1246.0 L45.0 1244.9 L47.0 1243.9 L49.0 1242.8 L51.0 1241.8 L53.0 1240.7 L55.0 1239.6 L57.0 1238.4 L59.0 1237.3 L61.0 1236.1 L63.0 1235.0 L65.0 1233.8 L67.0 1232.7 L69.0 1231.5 L71.0 1230.4 L73.0 1229.2 L75.0 1228.0 L77.0 1226.7 L79.0 1225.5 L81.0 1224.2 L83.0 1223.0 L85.0 1221.7 L87.0 1220.4 L89.0 1219.0 L91.0 1217.7 L93.0 1216.4 L95.0 1215.0 L97.0 1213.6 L99.0 1212.2 L101.0 1210.8 L103.0 1209.4 L105.0 1207.9 L107.0 1206.8 L109.0 1205.6 L111.0 1204.3 L113.0 1203.1 L115.0 1201.9 L117.0 1200.6 L119.0 1199.3 L121.0 1198.1 L123.0 1196.8 L125.0 1195.5 L127.0 1194.1 L129.0 1192.8 L131.0 1191.5 L133.0 1190.1 L135.0 1188.7 L137.0 1187.3 L139.0 1186.0 L141.0 1184.6 L143.0 1183.1 L145.0 1181.7 L147.0 1180.3 L149.0 1178.8 L151.0 1177.3 L153.0 1175.6 L155.0 1174.0 L157.0 1172.3 L159.0 1170.7 L161.0 1169.0 L163.0 1167.3 L165.0 1165.6 L167.0 1163.9 L169.0 1162.2 L171.0 1160.4 L173.0 1158.7 L175.0 1157.0 L177.0 1155.2 L179.0 1153.5 L181.0 1151.8 L183.0 1150.0 L185.0 1148.2 L187.0 1146.5 L189.0 1144.7 L191.0 1142.9 L193.0 1141.1 L195.0 1139.3 L197.0 1137.6 L199.0 1135.8 L201.0 1134.0 L203.0 1132.1 L205.0 1130.3 L207.0 1128.4 L209.0 1126.6 L211.0 1124.7 L213.0 1122.9 L215.0 1121.0 L217.0 1119.2 L219.0 1117.3 L221.0 1115.5 L223.0 1113.6 L225.0 1111.7 L227.0 1109.9 L229.0 1108.0 L231.0 1106.2 L233.0 1104.3 L235.0 1102.4 L237.0 1100.6 L239.0 1098.7 L241.0 1096.8 L243.0 1095.0 L245.0 1093.1 L247.0 1091.3 L249.0 1089.4 L251.0 1087.5 L253.0 1085.7 L255.0 1083.8 L257.0 1082.0 L259.0 1080.1 L261.0 1078.3 L263.0 1076.4 L265.0 1074.6 L267.0 1072.7 L269.0 1070.9 L271.0 1069.0 L273.0 1067.2 L275.0 1065.4 L277.0 1063.5 L279.0 1061.7 L281.0 1059.9 L283.0 1058.0 L285.0 1056.2 L287.0 1054.4 L289.0 1052.5 L291.0 1050.7 L293.0 1048.9 L295.0 1047.1 L297.0 1045.3 L299.0 1043.5 L301.0 1041.7 L303.0 1039.9 L305.0 1038.1 L307.0 1036.3 L309.0 1034.5 L311.0 1032.7 L313.0 1030.9 L315.0 1029.1 L317.0 1027.3 L319.0 1025.5 L321.0 1023.8 L323.0 1022.0 L325.0 1020.2 L327.0 1018.5 L329.0 1016.7 L331.0 1014.9 L333.0 1013.2 L335.0 1011.4 L337.0 1009.7 L339.0 1007.9 L341.0 1006.2 L343.0 1004.4 L345.0 1002.7 L347.0 1001.0 L349.0 999.2 L351.0 997.5 L353.0 995.8 L355.0 994.0 L357.0 992.3 L359.0 990.6 L361.0 988.9 L363.0 987.2 L365.0 985.5 L367.0 983.8 L369.0 982.0 L371.0 980.3 L373.0 978.7 L375.0 977.0 L377.0 975.3 L379.0 973.6 L381.0 971.9 L383.0 970.2 L385.0 968.5 L387.0 966.8 L389.0 965.2 L391.0 963.5 L393.0 961.8 L395.0 960.2 L397.0 958.5 L399.0 956.8 L401.0 955.2 L403.0 953.5 L405.0 951.9 L407.0 950.2 L409.0 948.6 L411.0 946.9 L413.0 945.3 L415.0 943.6 L417.0 942.0 L419.0 940.4 L421.0 938.7 L423.0 937.1 L425.0 935.5 L427.0 933.8 L429.0 932.2 L431.0 930.6 L433.0 929.0 L435.0 927.4 L437.0 925.7 L439.0 924.1 L441.0 922.5 L443.0 920.9 L445.0 919.3 L447.0 917.7 L449.0 916.1 L451.0 914.5 L453.0 912.9 L455.0 911.3 L457.0 909.7 L459.0 908.1 L461.0 906.5 L463.0 904.9 L465.0 903.4 L467.0 901.8 L469.0 900.2 L471.0 898.6 L473.0 897.0 L475.0 895.5 L477.0 893.9 L479.0 892.3 L481.0 890.7 L483.0 889.2 L485.0 887.6 L487.0 886.0 L489.0 884.5 L491.0 882.9 L493.0 881.3 L495.0 879.8 L497.0 878.2 L499.0 876.7 L501.0 875.1 L503.0 873.6 L505.0 872.0 L507.0 870.5 L509.0 868.9 L511.0 867.4 L513.0 865.8 L515.0 864.3 L517.0 862.7 L519.0 861.2 L521.0 859.6 L523.0 858.1 L525.0 856.6 L527.0 855.0 L529.0 853.5 L531.0 852.0 L533.0 850.4 L535.0 848.9 L537.0 847.4 L539.0 845.8 L541.0 844.3 L543.0 842.8 L545.0 841.3 L547.0 839.7 L549.0 838.2 L551.0 836.7 L553.0 835.2 L555.0 833.7 L557.0 832.1 L559.0 830.6 L561.0 829.1 L563.0 827.6 L565.0 826.1 L567.0 824.6 L569.0 823.0 L571.0 821.5 L573.0 820.0 L575.0 818.5 L577.0 817.0 L579.0 815.5 L581.0 814.0 L583.0 812.5 L585.0 811.0 L587.0 809.5 L589.0 808.0 L591.0 806.5 L593.0 805.0 L595.0 803.5 L597.0 802.0 L599.0 800.5 L601.0 799.0 L603.0 797.5 L605.0 796.0 L607.0 794.5 L609.0 793.0 L611.0 791.5 L613.0 790.0 L615.0 788.5 L617.0 787.0 L619.0 785.5 L621.0 784.1 L623.0 782.6 L625.0 781.1 L627.0 779.6 L629.0 778.1 L631.0 776.6 L633.0 775.1 L635.0 773.6 L637.0 772.2 L639.0 770.7 L641.0 769.2 L643.0 767.7 L645.0 766.2 L647.0 764.7 L649.0 763.3 L651.0 761.8 L653.0 760.3 L655.0 758.8 L657.0 757.3 L659.0 755.9 L661.0 754.4 L663.0 752.9 L665.0 751.4 L666.0 750.7" fill="none" stroke="#000" stroke-width="6.8" stroke-linejoin="round" stroke-linecap="round"/>
<rect x="42.7" y="706.7" width="52.9" height="37.3" fill="#fff"/>
<text transform="translate(44.43 736.36) scale(1.0160 1)" font-family="Liberation Sans" font-size="29.12" fill="#000" stroke="#000" stroke-width="0.50" stroke-linejoin="round">150</text>
<rect x="42.7" y="748.6" width="52.9" height="37.5" fill="#fff"/>
<text transform="translate(44.43 778.46) scale(1.0062 1)" font-family="Liberation Sans" font-size="29.40" fill="#000" stroke="#000" stroke-width="0.50" stroke-linejoin="round">100</text>
<rect x="41.2" y="819.3" width="37.7" height="38.7" fill="#fff"/>
<text transform="translate(43.96 850.34) scale(0.9593 1)" font-family="Liberation Sans" font-size="31.10" fill="#000" stroke="#000" stroke-width="0.52" stroke-linejoin="round">50</text>
<rect x="41.2" y="913.0" width="37.7" height="38.3" fill="#fff"/>
<text transform="translate(43.64 943.64) scale(0.9866 1)" font-family="Liberation Sans" font-size="30.53" fill="#000" stroke="#000" stroke-width="0.51" stroke-linejoin="round">20</text>
<rect x="42.7" y="984.9" width="36.2" height="37.9" fill="#fff"/>
<text transform="translate(44.45 1015.15) scale(0.9803 1)" font-family="Liberation Sans" font-size="29.96" fill="#000" stroke="#000" stroke-width="0.51" stroke-linejoin="round">10</text>
<rect x="41.7" y="1056.7" width="20.2" height="37.5" fill="#fff"/>
<text transform="translate(44.53 1086.55) scale(0.9389 1)" font-family="Liberation Sans" font-size="29.82" fill="#000" stroke="#000" stroke-width="0.53" stroke-linejoin="round">5</text>
<rect x="41.4" y="1150.1" width="20.0" height="37.6" fill="#fff"/>
<text transform="translate(43.91 1180.35) scale(0.9609 1)" font-family="Liberation Sans" font-size="29.96" fill="#000" stroke="#000" stroke-width="0.52" stroke-linejoin="round">2</text>
<rect x="43.5" y="1221.9" width="17.0" height="37.3" fill="#fff"/>
<text transform="translate(45.70 1251.85) scale(0.7794 1)" font-family="Liberation Sans" font-size="29.96" fill="#000" stroke="#000" stroke-width="0.64" stroke-linejoin="round">1</text>
<rect x="42.2" y="1285.7" width="19.4" height="27.2" fill="#fff"/>
<text transform="translate(43.18 1307.41) scale(0.9438 1)" font-family="Liberation Sans" font-size="21.72" fill="#000" stroke="#000" stroke-width="0.37" stroke-linejoin="round">.5</text>
<rect x="55.3" y="1309.1" width="14.7" height="27.2" fill="#fff"/>
<text transform="translate(57.11 1331.02) scale(0.9764 1)" font-family="Liberation Sans" font-size="21.72" fill="#000" stroke="#000" stroke-width="0.36" stroke-linejoin="round">2</text>
<rect x="169.7" y="1289.0" width="20.5" height="37.0" fill="#fff"/>
<text transform="translate(172.50 1318.36) scale(0.9838 1)" font-family="Liberation Sans" font-size="29.10" fill="#000" stroke="#000" stroke-width="0.51" stroke-linejoin="round">5</text>
<rect x="259.6" y="1289.0" width="34.8" height="37.0" fill="#fff"/>
<text transform="translate(261.45 1318.36) scale(0.9748 1)" font-family="Liberation Sans" font-size="28.69" fill="#000" stroke="#000" stroke-width="0.51" stroke-linejoin="round">10</text>
<rect x="358.7" y="1289.4" width="37.7" height="37.1" fill="#fff"/>
<text transform="translate(361.14 1318.86) scale(1.0447 1)" font-family="Liberation Sans" font-size="28.83" fill="#000" stroke="#000" stroke-width="0.50" stroke-linejoin="round">20</text>
<rect x="490.9" y="1289.4" width="36.9" height="37.1" fill="#fff"/>
<text transform="translate(493.69 1318.86) scale(1.0077 1)" font-family="Liberation Sans" font-size="28.83" fill="#000" stroke="#000" stroke-width="0.50" stroke-linejoin="round">50</text>
<rect x="577.2" y="1289.4" width="52.7" height="37.1" fill="#fff"/>
<text transform="translate(578.94 1318.86) scale(1.0215 1)" font-family="Liberation Sans" font-size="28.83" fill="#000" stroke="#000" stroke-width="0.50" stroke-linejoin="round">100</text>
<rect x="460.2" y="710.8" width="47.7" height="26.5" fill="#fff"/>
<text transform="translate(462.54 732.24) scale(0.9975 1)" font-family="Liberation Sans" font-size="21.48" fill="#2a2a2a" stroke="#2a2a2a" stroke-width="0.30" stroke-linejoin="round">80%</text>
<rect x="548.6" y="710.8" width="47.7" height="26.5" fill="#fff"/>
<text transform="translate(550.77 732.24) scale(1.0014 1)" font-family="Liberation Sans" font-size="21.48" fill="#2a2a2a" stroke="#2a2a2a" stroke-width="0.30" stroke-linejoin="round">60%</text>
<rect x="613.0" y="710.8" width="47.7" height="26.5" fill="#fff"/>
<text transform="translate(615.77 732.24) scale(0.9872 1)" font-family="Liberation Sans" font-size="21.48" fill="#2a2a2a" stroke="#2a2a2a" stroke-width="0.30" stroke-linejoin="round">40%</text>
<path d="M114.50 708.10 L126.50 716.10 M114.50 716.10 L126.50 708.10" stroke="#1a1a1a" stroke-width="1.7" stroke-linecap="round"/>
<path d="M120.50 706.70 L120.50 717.50" stroke="#666" stroke-width="1.6" stroke-linecap="round"/>
<rect x="118.70" y="710.40" width="3.6" height="3.4" fill="#000"/>
<text transform="translate(130.08 728.45) scale(0.9761 1)" font-family="Liberation Sans" font-size="29.68" fill="#000" stroke="#000" stroke-width="0.51" stroke-linejoin="round">10</text>
<text transform="translate(161.95 716.64) scale(0.6520 1)" font-family="Liberation Sans" font-size="32.26" fill="#000">-</text>
<text transform="translate(169.99 715.01) scale(1.1281 1)" font-family="Liberation Sans" font-size="19.22" fill="#000">3</text>
<path d="M124.05 765.55 C132.27 765.55 137.75 771.39 137.75 780.15 C137.75 788.91 132.27 794.75 124.05 794.75 C115.83 794.75 110.35 788.91 110.35 780.15 C110.35 771.39 115.83 765.55 124.05 765.55Z" fill="none" stroke="#000" stroke-width="4.0"/>
<path d="M126.0 794.30 C126.4 800.60 128.8 802.90 132.6 802.90 L138.9 802.90" fill="none" stroke="#000" stroke-width="3.8"/>
<path d="M147.3 789.2h9.6v2.7h-3.2v20.6h3.2v2.7h-9.6v-2.7h3.2v-20.6h-3.2z" fill="#000"/>
<text transform="translate(157.89 812.91) scale(0.9279 1)" font-family="Liberation Sans" font-size="34.41" fill="#000" stroke="#000" stroke-width="0.54" stroke-linejoin="round">gA</text>
<path d="M572.80 1182.05 C581.02 1182.05 586.50 1187.99 586.50 1196.90 C586.50 1205.81 581.02 1211.75 572.80 1211.75 C564.58 1211.75 559.10 1205.81 559.10 1196.90 C559.10 1187.99 564.58 1182.05 572.80 1182.05Z" fill="none" stroke="#000" stroke-width="4.0"/>
<path d="M575.0 1211.50 C575.4 1217.30 577.6 1219.50 581.4 1219.50 L587.7 1219.50" fill="none" stroke="#000" stroke-width="3.8"/>
<text transform="translate(594.76 1231.47) scale(0.9119 1)" font-family="Liberation Sans" font-size="37.69" fill="#000" stroke="#000" stroke-width="0.55" stroke-linejoin="round">Alb</text>
<path d="M523.20 1257.30 L535.20 1265.30 M523.20 1265.30 L535.20 1257.30" stroke="#1a1a1a" stroke-width="1.7" stroke-linecap="round"/>
<path d="M529.20 1255.90 L529.20 1266.70" stroke="#666" stroke-width="1.6" stroke-linecap="round"/>
<rect x="527.40" y="1259.60" width="3.6" height="3.4" fill="#000"/>
<text transform="translate(538.75 1276.85) scale(0.8942 1)" font-family="Liberation Sans" font-size="29.82" fill="#000" stroke="#000" stroke-width="0.56" stroke-linejoin="round">10</text>
<text transform="translate(576.93 1271.44) scale(0.6008 1)" font-family="Liberation Sans" font-size="32.26" fill="#000">-</text>
<text transform="translate(583.83 1268.51) scale(1.0702 1)" font-family="Liberation Sans" font-size="19.08" fill="#000">3</text>
<line x1="3" y1="1400.1" x2="31.8" y2="1400.1" stroke="#000" stroke-width="4.3"/>
<line x1="3" y1="1409.4" x2="23.5" y2="1409.4" stroke="#000" stroke-width="2.6"/>
<line x1="3" y1="1414.5" x2="23.5" y2="1414.5" stroke="#000" stroke-width="2.6"/>
<line x1="3" y1="1422.7" x2="23.5" y2="1422.7" stroke="#000" stroke-width="2.6"/>
<line x1="3" y1="1432.5" x2="23.5" y2="1432.5" stroke="#000" stroke-width="2.6"/>
<line x1="3" y1="1441.6" x2="31.8" y2="1441.6" stroke="#000" stroke-width="4.3"/>
<line x1="3" y1="1452.7" x2="23.5" y2="1452.7" stroke="#000" stroke-width="2.6"/>
<line x1="3" y1="1465.8" x2="23.5" y2="1465.8" stroke="#000" stroke-width="2.6"/>
<line x1="3" y1="1481.0" x2="23.5" y2="1481.0" stroke="#000" stroke-width="2.6"/>
<line x1="3" y1="1494.1" x2="23.5" y2="1494.1" stroke="#000" stroke-width="2.6"/>
<line x1="3" y1="1513.2" x2="31.8" y2="1513.2" stroke="#000" stroke-width="4.3"/>
<line x1="3" y1="1536.0" x2="23.5" y2="1536.0" stroke="#000" stroke-width="2.6"/>
<line x1="3" y1="1566.0" x2="23.5" y2="1566.0" stroke="#000" stroke-width="2.6"/>
<line x1="3" y1="1607.0" x2="25" y2="1607.0" stroke="#000" stroke-width="4"/>
<line x1="3" y1="1678.6" x2="31.8" y2="1678.6" stroke="#000" stroke-width="4.3"/>
<line x1="3" y1="1689.3" x2="23.5" y2="1689.3" stroke="#000" stroke-width="2.6"/>
<line x1="3" y1="1701.1" x2="23.5" y2="1701.1" stroke="#000" stroke-width="2.6"/>
<line x1="3" y1="1714.4" x2="23.5" y2="1714.4" stroke="#000" stroke-width="2.6"/>
<line x1="3" y1="1732.0" x2="25" y2="1732.0" stroke="#000" stroke-width="4"/>
<line x1="3" y1="1750.4" x2="31.8" y2="1750.4" stroke="#000" stroke-width="4.3"/>
<line x1="3" y1="1772.0" x2="25" y2="1772.0" stroke="#000" stroke-width="4"/>
<line x1="3" y1="1803.5" x2="25" y2="1803.5" stroke="#000" stroke-width="4"/>
<line x1="3" y1="1844.1" x2="25" y2="1844.1" stroke="#000" stroke-width="4"/>
<line x1="3" y1="1916.3" x2="31.8" y2="1916.3" stroke="#000" stroke-width="4.3"/>
<line x1="3" y1="1927.9" x2="23.5" y2="1927.9" stroke="#000" stroke-width="2.6"/>
<line x1="3" y1="1937.2" x2="23.5" y2="1937.2" stroke="#000" stroke-width="2.6"/>
<line x1="3" y1="1951.2" x2="23.5" y2="1951.2" stroke="#000" stroke-width="2.6"/>
<line x1="3" y1="1967.6" x2="23.5" y2="1967.6" stroke="#000" stroke-width="2.6"/>
<line x1="3" y1="1986.8" x2="25" y2="1986.8" stroke="#000" stroke-width="4"/>
<line x1="46.4" y1="2039.6" x2="46.4" y2="2010.6" stroke="#000" stroke-width="4.2"/>
<line x1="102.0" y1="2039.6" x2="102.0" y2="2019.9" stroke="#000" stroke-width="2.6"/>
<line x1="143.6" y1="2039.6" x2="143.6" y2="2019.9" stroke="#000" stroke-width="2.6"/>
<line x1="179.6" y1="2039.6" x2="179.6" y2="2010.6" stroke="#000" stroke-width="4.2"/>
<line x1="200.5" y1="2039.6" x2="200.5" y2="2018.6" stroke="#000" stroke-width="3"/>
<line x1="224.0" y1="2039.6" x2="224.0" y2="2019.9" stroke="#000" stroke-width="2.6"/>
<line x1="242.2" y1="2039.6" x2="242.2" y2="2019.9" stroke="#000" stroke-width="2.6"/>
<line x1="258.7" y1="2039.6" x2="258.7" y2="2019.9" stroke="#000" stroke-width="2.6"/>
<line x1="278.1" y1="2039.6" x2="278.1" y2="2010.6" stroke="#000" stroke-width="4.2"/>
<line x1="375.3" y1="2039.6" x2="375.3" y2="2018.6" stroke="#000" stroke-width="3"/>
<line x1="432.4" y1="2039.6" x2="432.4" y2="2019.9" stroke="#000" stroke-width="2.6"/>
<line x1="474.1" y1="2039.6" x2="474.1" y2="2019.9" stroke="#000" stroke-width="2.6"/>
<line x1="510.1" y1="2039.6" x2="510.1" y2="2010.6" stroke="#000" stroke-width="4.2"/>
<line x1="532.6" y1="2039.6" x2="532.6" y2="2019.9" stroke="#000" stroke-width="2.6"/>
<line x1="554.0" y1="2039.6" x2="554.0" y2="2019.9" stroke="#000" stroke-width="2.6"/>
<line x1="572.6" y1="2039.6" x2="572.6" y2="2018.6" stroke="#000" stroke-width="3"/>
<line x1="589.4" y1="2039.6" x2="589.4" y2="2018.6" stroke="#000" stroke-width="3"/>
<line x1="608.6" y1="2039.6" x2="608.6" y2="2010.6" stroke="#000" stroke-width="4.2"/>
<line x1="620.8" y1="2039.6" x2="620.8" y2="2018.6" stroke="#000" stroke-width="3"/>
<line x1="631.0" y1="2039.6" x2="631.0" y2="2019.9" stroke="#000" stroke-width="2.6"/>
<line x1="644.4" y1="2039.6" x2="644.4" y2="2018.6" stroke="#000" stroke-width="3"/>
<line x1="652.6" y1="2039.6" x2="652.6" y2="2018.6" stroke="#000" stroke-width="3"/>
<line x1="667.0" y1="2039.6" x2="667.0" y2="2010.6" stroke="#000" stroke-width="4.2"/>
<line x1="243.3" y1="1846.3" x2="243.3" y2="2024.4" stroke="#b0b0b0" stroke-width="3.8"/>
<line x1="265.3" y1="1821.6" x2="265.3" y2="2024.4" stroke="#b0b0b0" stroke-width="3.8"/>
<line x1="287.3" y1="1796.4" x2="287.3" y2="2024.4" stroke="#b0b0b0" stroke-width="3.8"/>
<line x1="309.3" y1="1771.5" x2="309.3" y2="2024.4" stroke="#b0b0b0" stroke-width="3.8"/>
<line x1="331.3" y1="1747.1" x2="331.3" y2="2024.4" stroke="#b0b0b0" stroke-width="3.8"/>
<line x1="353.3" y1="1723.3" x2="353.3" y2="2024.4" stroke="#b0b0b0" stroke-width="3.8"/>
<line x1="375.3" y1="1700.1" x2="375.3" y2="2024.4" stroke="#b0b0b0" stroke-width="3.8"/>
<line x1="397.3" y1="1677.7" x2="397.3" y2="2004.3" stroke="#b0b0b0" stroke-width="3.8"/>
<line x1="419.3" y1="1656.0" x2="419.3" y2="1979.4" stroke="#b0b0b0" stroke-width="3.8"/>
<line x1="441.3" y1="1634.9" x2="441.3" y2="1955.2" stroke="#b0b0b0" stroke-width="3.8"/>
<line x1="463.3" y1="1614.5" x2="463.3" y2="1931.6" stroke="#b0b0b0" stroke-width="3.8"/>
<line x1="485.3" y1="1594.7" x2="485.3" y2="1908.9" stroke="#b0b0b0" stroke-width="3.8"/>
<line x1="507.3" y1="1575.4" x2="507.3" y2="1886.9" stroke="#b0b0b0" stroke-width="3.8"/>
<line x1="529.3" y1="1556.6" x2="529.3" y2="1865.6" stroke="#b0b0b0" stroke-width="3.8"/>
<line x1="551.3" y1="1538.1" x2="551.3" y2="1844.9" stroke="#b0b0b0" stroke-width="3.8"/>
<line x1="573.3" y1="1520.1" x2="573.3" y2="1824.9" stroke="#b0b0b0" stroke-width="3.8"/>
<line x1="595.3" y1="1502.3" x2="595.3" y2="1805.4" stroke="#b0b0b0" stroke-width="3.8"/>
<line x1="617.3" y1="1484.8" x2="617.3" y2="1786.4" stroke="#b0b0b0" stroke-width="3.8"/>
<line x1="639.3" y1="1467.6" x2="639.3" y2="1767.9" stroke="#b0b0b0" stroke-width="3.8"/>
<line x1="661.3" y1="1450.5" x2="661.3" y2="1749.7" stroke="#b0b0b0" stroke-width="3.8"/>
<path d="M408.0 1990.6 L410.0 1988.4 L412.0 1986.1 L414.0 1983.8 L416.0 1981.6 L418.0 1979.4 L420.0 1977.1 L422.0 1974.9 L424.0 1972.7 L426.0 1970.4 L428.0 1968.2 L430.0 1966.0 L432.0 1963.8 L434.0 1961.6 L436.0 1959.4 L438.0 1957.3 L440.0 1955.1 L442.0 1952.9 L444.0 1950.7 L446.0 1948.6 L448.0 1946.4 L450.0 1944.3 L452.0 1942.1 L454.0 1940.0 L456.0 1937.9 L458.0 1935.7 L460.0 1933.6 L462.0 1931.5 L464.0 1929.4 L466.0 1927.3 L468.0 1925.2 L470.0 1923.1 L472.0 1921.0 L474.0 1919.0 L476.0 1916.9 L478.0 1914.8 L480.0 1912.8 L482.0 1910.7 L484.0 1908.7 L486.0 1906.7 L488.0 1904.6 L490.0 1902.6 L492.0 1900.6 L494.0 1898.6 L496.0 1896.6 L498.0 1894.6 L500.0 1892.6 L502.0 1890.6 L504.0 1888.6 L506.0 1886.6 L508.0 1884.7 L510.0 1882.7 L512.0 1880.7 L514.0 1878.8 L516.0 1876.8 L518.0 1874.9 L520.0 1873.0 L522.0 1871.0 L524.0 1869.1 L526.0 1867.2 L528.0 1865.3 L530.0 1863.4 L532.0 1861.5 L534.0 1859.6 L536.0 1857.7 L538.0 1855.8 L540.0 1853.9 L542.0 1852.1 L544.0 1850.2 L546.0 1848.3 L548.0 1846.5 L550.0 1844.6 L552.0 1842.8 L554.0 1840.9 L556.0 1839.1 L558.0 1837.3 L560.0 1835.4 L562.0 1833.6 L564.0 1831.8 L566.0 1830.0 L568.0 1828.2 L570.0 1826.4 L572.0 1824.6 L574.0 1822.8 L576.0 1821.0 L578.0 1819.2 L580.0 1817.4 L582.0 1815.6 L584.0 1813.9 L586.0 1812.1 L588.0 1810.3 L590.0 1808.6 L592.0 1806.8 L594.0 1805.1 L596.0 1803.3 L598.0 1801.6 L600.0 1799.8 L602.0 1798.1 L604.0 1796.4 L606.0 1794.6 L608.0 1792.9 L610.0 1791.2 L612.0 1789.5 L614.0 1787.8 L616.0 1786.0 L618.0 1784.3 L620.0 1782.6 L622.0 1780.9 L624.0 1779.2 L626.0 1777.5 L628.0 1775.9 L630.0 1774.2 L632.0 1772.5 L634.0 1770.8 L636.0 1769.1 L638.0 1767.5 L640.0 1765.8 L642.0 1764.1 L644.0 1762.5 L646.0 1760.8 L648.0 1759.1 L650.0 1757.5 L652.0 1755.8 L654.0 1754.2 L656.0 1752.5 L658.0 1750.9 L660.0 1749.3 L662.0 1747.6" fill="none" stroke="#aaaaaa" stroke-width="2.7" stroke-linejoin="round" />
<path d="M10.9 2015.0 L12.9 2014.2 L14.9 2013.5 L16.9 2012.7 L18.9 2011.9 L20.9 2011.1 L22.9 2010.2 L24.9 2009.4 L26.9 2008.5 L28.9 2007.7 L30.9 2006.8 L32.9 2005.9 L34.9 2004.9 L36.9 2003.5 L38.9 2001.9 L40.9 2000.4 L42.9 1998.8 L44.9 1997.3 L46.9 1995.7 L48.9 1994.1 L50.9 1992.4 L52.9 1990.8 L54.9 1989.1 L56.9 1987.5 L58.9 1985.8 L60.9 1984.3 L62.9 1983.3 L64.9 1982.1 L66.9 1981.0 L68.9 1979.9 L70.9 1978.7 L72.9 1977.5 L74.9 1976.3 L76.9 1975.1 L78.9 1973.9 L80.9 1972.6 L82.9 1971.3 L84.9 1970.0 L86.9 1968.7 L88.9 1967.4 L90.9 1966.0 L92.9 1964.6 L94.9 1963.3 L96.9 1961.8 L98.9 1960.4 L100.9 1959.0 L102.9 1957.5 L104.9 1956.0 L106.9 1954.5 L108.9 1953.0 L110.9 1951.4 L112.9 1949.9 L114.9 1948.3 L116.9 1946.7 L118.9 1945.1 L120.9 1943.5 L122.9 1941.8 L124.9 1940.2 L126.9 1938.5 L128.9 1936.8 L130.9 1935.1 L132.9 1933.5 L134.9 1931.8 L136.9 1930.2 L138.9 1928.5 L140.9 1926.8 L142.9 1925.1 L144.9 1923.4 L146.9 1921.6 L148.9 1919.9 L150.9 1918.1 L152.9 1916.3 L154.9 1914.5 L156.9 1912.7 L158.9 1911.0 L160.9 1909.3 L162.9 1907.7 L164.9 1906.0 L166.9 1904.4 L168.9 1902.7 L170.9 1901.0 L172.9 1899.3 L174.9 1897.6 L176.9 1895.8 L178.9 1894.1 L180.9 1892.3 L182.9 1890.5 L184.9 1888.7 L186.9 1886.9 L188.9 1885.1 L190.9 1883.3 L192.9 1881.5 L194.9 1879.6 L196.9 1877.8 L198.9 1875.9 L200.9 1873.9 L202.9 1871.8 L204.9 1869.7 L206.9 1867.5 L208.9 1865.4 L210.9 1863.2 L212.9 1861.0 L214.9 1858.9 L216.9 1856.7 L218.9 1854.5 L220.9 1852.3 L222.9 1850.1 L224.9 1847.9 L226.9 1845.7 L228.9 1843.5 L230.9 1841.3 L232.9 1839.1 L234.9 1836.9 L236.9 1834.7 L238.9 1832.4 L240.9 1830.2 L242.9 1828.0 L244.9 1825.7 L246.9 1823.5 L248.9 1821.3 L250.9 1819.0 L252.9 1816.8 L254.9 1814.6 L256.9 1812.3 L258.9 1810.1 L260.9 1807.8 L262.9 1805.5 L264.9 1803.2 L266.9 1800.9 L268.9 1798.6 L270.9 1796.3 L272.9 1794.1 L274.9 1791.8 L276.9 1789.5 L278.9 1787.2 L280.9 1784.9 L282.9 1782.6 L284.9 1780.3 L286.9 1778.1 L288.9 1775.8 L290.9 1773.5 L292.9 1771.2 L294.9 1769.0 L296.9 1766.7 L298.9 1764.4 L300.9 1762.2 L302.9 1759.9 L304.9 1757.6 L306.9 1755.4 L308.9 1753.1 L310.9 1750.9 L312.9 1748.7 L314.9 1746.4 L316.9 1744.2 L318.9 1742.0 L320.9 1739.8 L322.9 1737.5 L324.9 1735.3 L326.9 1733.1 L328.9 1730.9 L330.9 1728.7 L332.9 1726.5 L334.9 1724.3 L336.9 1722.1 L338.9 1720.0 L340.9 1717.8 L342.9 1715.6 L344.9 1713.5 L346.9 1711.3 L348.9 1709.2 L350.9 1707.0 L352.9 1704.9 L354.9 1702.7 L356.9 1700.6 L358.9 1698.5 L360.9 1696.4 L362.9 1694.3 L364.9 1692.2 L366.9 1690.1 L368.9 1688.0 L370.9 1685.9 L372.9 1683.8 L374.9 1681.7 L376.9 1679.6 L378.9 1677.6 L380.9 1675.5 L382.9 1673.5 L384.9 1671.4 L386.9 1669.4 L388.9 1667.4 L390.9 1665.3 L392.9 1663.3 L394.9 1661.3 L396.9 1659.3 L398.9 1657.3 L400.9 1655.3 L402.9 1653.3 L404.9 1651.3 L406.9 1649.3 L408.9 1647.3 L410.9 1645.4 L412.9 1643.4 L414.9 1641.4 L416.9 1639.5 L418.9 1637.5 L420.9 1635.6 L422.9 1633.7 L424.9 1631.7 L426.9 1629.8 L428.9 1627.9 L430.9 1626.0 L432.9 1624.1 L434.9 1622.2 L436.9 1620.3 L438.9 1618.4 L440.9 1616.5 L442.9 1614.6 L444.9 1612.7 L446.9 1610.9 L448.9 1609.0 L450.9 1607.1 L452.9 1605.3 L454.9 1603.4 L456.9 1601.6 L458.9 1599.7 L460.9 1597.9 L462.9 1596.1 L464.9 1594.2 L466.9 1592.4 L468.9 1590.6 L470.9 1588.8 L472.9 1587.0 L474.9 1585.2 L476.9 1583.4 L478.9 1581.6 L480.9 1579.8 L482.9 1578.0 L484.9 1576.2 L486.9 1574.5 L488.9 1572.7 L490.9 1570.9 L492.9 1569.2 L494.9 1567.4 L496.9 1565.6 L498.9 1563.9 L500.9 1562.1 L502.9 1560.4 L504.9 1558.7 L506.9 1556.9 L508.9 1555.2 L510.9 1553.5 L512.9 1551.7 L514.9 1550.0 L516.9 1548.3 L518.9 1546.6 L520.9 1544.9 L522.9 1543.2 L524.9 1541.5 L526.9 1539.8 L528.9 1538.1 L530.9 1536.4 L532.9 1534.7 L534.9 1533.0 L536.9 1531.3 L538.9 1529.7 L540.9 1528.0 L542.9 1526.3 L544.9 1524.6 L546.9 1523.0 L548.9 1521.3 L550.9 1519.7 L552.9 1518.0 L554.9 1516.3 L556.9 1514.7 L558.9 1513.0 L560.9 1511.4 L562.9 1509.7 L564.9 1508.1 L566.9 1506.5 L568.9 1504.8 L570.9 1503.2 L572.9 1501.6 L574.9 1499.9 L576.9 1498.3 L578.9 1496.7 L580.9 1495.1 L582.9 1493.5 L584.9 1491.8 L586.9 1490.2 L588.9 1488.6 L590.9 1487.0 L592.9 1485.4 L594.9 1483.8 L596.9 1482.2 L598.9 1480.6 L600.9 1479.0 L602.9 1477.4 L604.9 1475.8 L606.9 1474.2 L608.9 1472.7 L610.9 1471.1 L612.9 1469.5 L614.9 1467.9 L616.9 1466.3 L618.9 1464.7 L620.9 1463.2 L622.9 1461.6 L624.9 1460.0 L626.9 1458.4 L628.9 1456.9 L630.9 1455.3 L632.9 1453.7 L634.9 1452.2 L636.9 1450.6 L638.9 1449.1 L640.9 1447.5 L642.9 1445.9 L644.9 1444.4 L646.9 1442.8 L648.9 1441.3 L650.9 1439.7 L652.9 1438.2 L654.9 1436.6 L656.9 1435.1 L658.9 1433.5 L660.9 1432.0 L662.9 1430.5 L664.9 1428.9 L666.0 1428.1" fill="none" stroke="#aaaaaa" stroke-width="2.7" stroke-linejoin="round" />
<path d="M10.9 1981.7 L12.9 1981.0 L14.9 1980.3 L16.9 1979.5 L18.9 1978.7 L20.9 1977.9 L22.9 1977.1 L24.9 1976.3 L26.9 1975.5 L28.9 1974.6 L30.9 1973.7 L32.9 1972.8 L34.9 1971.9 L36.9 1970.7 L38.9 1969.3 L40.9 1968.0 L42.9 1966.6 L44.9 1965.2 L46.9 1963.8 L48.9 1962.4 L50.9 1961.0 L52.9 1959.5 L54.9 1958.1 L56.9 1956.6 L58.9 1955.1 L60.9 1953.8 L62.9 1952.7 L64.9 1951.6 L66.9 1950.4 L68.9 1949.3 L70.9 1948.1 L72.9 1946.9 L74.9 1945.7 L76.9 1944.5 L78.9 1943.3 L80.9 1942.0 L82.9 1940.7 L84.9 1939.4 L86.9 1938.1 L88.9 1936.8 L90.9 1935.4 L92.9 1934.1 L94.9 1932.7 L96.9 1931.3 L98.9 1929.8 L100.9 1928.4 L102.9 1926.9 L104.9 1925.4 L106.9 1923.9 L108.9 1922.4 L110.9 1920.9 L112.9 1919.3 L114.9 1917.7 L116.9 1916.1 L118.9 1914.5 L120.9 1912.9 L122.9 1911.2 L124.9 1909.6 L126.9 1907.9 L128.9 1906.2 L130.9 1904.5 L132.9 1902.9 L134.9 1901.2 L136.9 1899.5 L138.9 1897.8 L140.9 1896.0 L142.9 1894.3 L144.9 1892.6 L146.9 1890.8 L148.9 1889.0 L150.9 1887.2 L152.9 1885.4 L154.9 1883.5 L156.9 1881.7 L158.9 1879.9 L160.9 1878.2 L162.9 1876.4 L164.9 1874.7 L166.9 1872.9 L168.9 1871.1 L170.9 1869.3 L172.9 1867.5 L174.9 1865.7 L176.9 1863.9 L178.9 1862.1 L180.9 1860.2 L182.9 1858.3 L184.9 1856.4 L186.9 1854.5 L188.9 1852.6 L190.9 1850.7 L192.9 1848.8 L194.9 1846.9 L196.9 1844.9 L198.9 1843.0 L200.9 1840.9 L202.9 1838.8 L204.9 1836.6 L206.9 1834.5 L208.9 1832.3 L210.9 1830.1 L212.9 1828.0 L214.9 1825.8 L216.9 1823.6 L218.9 1821.4 L220.9 1819.2 L222.9 1817.0 L224.9 1814.8 L226.9 1812.6 L228.9 1810.3 L230.9 1808.1 L232.9 1805.9 L234.9 1803.6 L236.9 1801.4 L238.9 1799.2 L240.9 1796.9 L242.9 1794.7 L244.9 1792.4 L246.9 1790.2 L248.9 1787.9 L250.9 1785.7 L252.9 1783.4 L254.9 1781.2 L256.9 1778.9 L258.9 1776.6 L260.9 1774.4 L262.9 1772.1 L264.9 1769.8 L266.9 1767.5 L268.9 1765.2 L270.9 1762.9 L272.9 1760.6 L274.9 1758.3 L276.9 1756.0 L278.9 1753.8 L280.9 1751.5 L282.9 1749.2 L284.9 1746.9 L286.9 1744.6 L288.9 1742.3 L290.9 1740.1 L292.9 1737.8 L294.9 1735.5 L296.9 1733.3 L298.9 1731.0 L300.9 1728.7 L302.9 1726.5 L304.9 1724.2 L306.9 1722.0 L308.9 1719.7 L310.9 1717.5 L312.9 1715.2 L314.9 1713.0 L316.9 1710.8 L318.9 1708.5 L320.9 1706.3 L322.9 1704.1 L324.9 1701.9 L326.9 1699.7 L328.9 1697.5 L330.9 1695.3 L332.9 1693.1 L334.9 1690.9 L336.9 1688.7 L338.9 1686.5 L340.9 1684.4 L342.9 1682.2 L344.9 1680.0 L346.9 1677.9 L348.9 1675.7 L350.9 1673.6 L352.9 1671.4 L354.9 1669.3 L356.9 1667.2 L358.9 1665.1 L360.9 1662.9 L362.9 1660.8 L364.9 1658.7 L366.9 1656.6 L368.9 1654.5 L370.9 1652.4 L372.9 1650.4 L374.9 1648.3 L376.9 1646.2 L378.9 1644.1 L380.9 1642.1 L382.9 1640.0 L384.9 1638.0 L386.9 1636.0 L388.9 1633.9 L390.9 1631.9 L392.9 1629.9 L394.9 1627.8 L396.9 1625.8 L398.9 1623.8 L400.9 1621.8 L402.9 1619.8 L404.9 1617.9 L406.9 1615.9 L408.9 1613.9 L410.9 1611.9 L412.9 1610.0 L414.9 1608.0 L416.9 1606.1 L418.9 1604.1 L420.9 1602.2 L422.9 1600.2 L424.9 1598.3 L426.9 1596.4 L428.9 1594.5 L430.9 1592.5 L432.9 1590.6 L434.9 1588.7 L436.9 1586.8 L438.9 1584.9 L440.9 1583.1 L442.9 1581.2 L444.9 1579.3 L446.9 1577.4 L448.9 1575.6 L450.9 1573.7 L452.9 1571.8 L454.9 1570.0 L456.9 1568.1 L458.9 1566.3 L460.9 1564.5 L462.9 1562.6 L464.9 1560.8 L466.9 1559.0 L468.9 1557.2 L470.9 1555.4 L472.9 1553.6 L474.9 1551.8 L476.9 1550.0 L478.9 1548.2 L480.9 1546.4 L482.9 1544.6 L484.9 1542.8 L486.9 1541.0 L488.9 1539.3 L490.9 1537.5 L492.9 1535.7 L494.9 1534.0 L496.9 1532.2 L498.9 1530.5 L500.9 1528.7 L502.9 1527.0 L504.9 1525.2 L506.9 1523.5 L508.9 1521.8 L510.9 1520.0 L512.9 1518.3 L514.9 1516.6 L516.9 1514.9 L518.9 1513.2 L520.9 1511.5 L522.9 1509.7 L524.9 1508.0 L526.9 1506.3 L528.9 1504.7 L530.9 1503.0 L532.9 1501.3 L534.9 1499.6 L536.9 1497.9 L538.9 1496.2 L540.9 1494.5 L542.9 1492.9 L544.9 1491.2 L546.9 1489.5 L548.9 1487.9 L550.9 1486.2 L552.9 1484.6 L554.9 1482.9 L556.9 1481.3 L558.9 1479.6 L560.9 1478.0 L562.9 1476.3 L564.9 1474.7 L566.9 1473.0 L568.9 1471.4 L570.9 1469.8 L572.9 1468.1 L574.9 1466.5 L576.9 1464.9 L578.9 1463.3 L580.9 1461.6 L582.9 1460.0 L584.9 1458.4 L586.9 1456.8 L588.9 1455.2 L590.9 1453.6 L592.9 1452.0 L594.9 1450.4 L596.9 1448.8 L598.9 1447.2 L600.9 1445.6 L602.9 1444.0 L604.9 1442.4 L606.9 1440.8 L608.9 1439.2 L610.9 1437.6 L612.9 1436.0 L614.9 1434.5 L616.9 1432.9 L618.9 1431.3 L620.9 1429.7 L622.9 1428.2 L624.9 1426.6 L626.9 1425.0 L628.9 1423.4 L630.9 1421.9 L632.9 1420.3 L634.9 1418.7 L636.9 1417.2 L637.8 1416.5" fill="none" stroke="#aaaaaa" stroke-width="2.7" stroke-linejoin="round" />
<path d="M10.9 1942.8 L12.9 1942.1 L14.9 1941.4 L16.9 1940.6 L18.9 1939.8 L20.9 1939.0 L22.9 1938.2 L24.9 1937.4 L26.9 1936.6 L28.9 1935.7 L30.9 1934.8 L32.9 1934.0 L34.9 1933.1 L36.9 1931.8 L38.9 1930.4 L40.9 1929.1 L42.9 1927.7 L44.9 1926.3 L46.9 1924.9 L48.9 1923.5 L50.9 1922.1 L52.9 1920.6 L54.9 1919.2 L56.9 1917.7 L58.9 1916.2 L60.9 1914.9 L62.9 1913.8 L64.9 1912.7 L66.9 1911.5 L68.9 1910.4 L70.9 1909.2 L72.9 1908.0 L74.9 1906.8 L76.9 1905.6 L78.9 1904.4 L80.9 1903.1 L82.9 1901.8 L84.9 1900.5 L86.9 1899.2 L88.9 1897.9 L90.9 1896.5 L92.9 1895.2 L94.9 1893.8 L96.9 1892.4 L98.9 1890.9 L100.9 1889.5 L102.9 1888.0 L104.9 1886.5 L106.9 1885.0 L108.9 1883.5 L110.9 1882.0 L112.9 1880.4 L114.9 1878.8 L116.9 1877.2 L118.9 1875.6 L120.9 1874.0 L122.9 1872.4 L124.9 1870.7 L126.9 1869.0 L128.9 1867.3 L130.9 1865.6 L132.9 1864.0 L134.9 1862.3 L136.9 1860.6 L138.9 1858.9 L140.9 1857.2 L142.9 1855.4 L144.9 1853.7 L146.9 1851.9 L148.9 1850.1 L150.9 1848.3 L152.9 1846.5 L154.9 1844.6 L156.9 1842.8 L158.9 1841.0 L160.9 1839.3 L162.9 1837.5 L164.9 1835.8 L166.9 1834.0 L168.9 1832.2 L170.9 1830.4 L172.9 1828.6 L174.9 1826.8 L176.9 1825.0 L178.9 1823.2 L180.9 1821.3 L182.9 1819.4 L184.9 1817.5 L186.9 1815.7 L188.9 1813.7 L190.9 1811.8 L192.9 1809.9 L194.9 1808.0 L196.9 1806.0 L198.9 1804.1 L200.9 1802.0 L202.9 1799.9 L204.9 1797.7 L206.9 1795.6 L208.9 1793.4 L210.9 1791.3 L212.9 1789.1 L214.9 1786.9 L216.9 1784.7 L218.9 1782.5 L220.9 1780.3 L222.9 1778.1 L224.9 1775.9 L226.9 1773.7 L228.9 1771.4 L230.9 1769.2 L232.9 1767.0 L234.9 1764.8 L236.9 1762.5 L238.9 1760.3 L240.9 1758.0 L242.9 1755.8 L244.9 1753.5 L246.9 1751.3 L248.9 1749.0 L250.9 1746.8 L252.9 1744.5 L254.9 1742.3 L256.9 1740.0 L258.9 1737.8 L260.9 1735.5 L262.9 1733.2 L264.9 1730.9 L266.9 1728.6 L268.9 1726.3 L270.9 1724.0 L272.9 1721.7 L274.9 1719.4 L276.9 1717.1 L278.9 1714.9 L280.9 1712.6 L282.9 1710.3 L284.9 1708.0 L286.9 1705.7 L288.9 1703.4 L290.9 1701.2 L292.9 1698.9 L294.9 1696.6 L296.9 1694.4 L298.9 1692.1 L300.9 1689.8 L302.9 1687.6 L304.9 1685.3 L306.9 1683.1 L308.9 1680.8 L310.9 1678.6 L312.9 1676.3 L314.9 1674.1 L316.9 1671.9 L318.9 1669.6 L320.9 1667.4 L322.9 1665.2 L324.9 1663.0 L326.9 1660.8 L328.9 1658.6 L330.9 1656.4 L332.9 1654.2 L334.9 1652.0 L336.9 1649.8 L338.9 1647.6 L340.9 1645.5 L342.9 1643.3 L344.9 1641.1 L346.9 1639.0 L348.9 1636.8 L350.9 1634.7 L352.9 1632.5 L354.9 1630.4 L356.9 1628.3 L358.9 1626.2 L360.9 1624.0 L362.9 1621.9 L364.9 1619.8 L366.9 1617.7 L368.9 1615.6 L370.9 1613.5 L372.9 1611.5 L374.9 1609.4 L376.9 1607.3 L378.9 1605.3 L380.9 1603.2 L382.9 1601.1 L384.9 1599.1 L386.9 1597.1 L388.9 1595.0 L390.9 1593.0 L392.9 1591.0 L394.9 1589.0 L396.9 1586.9 L398.9 1584.9 L400.9 1582.9 L402.9 1580.9 L404.9 1579.0 L406.9 1577.0 L408.9 1575.0 L410.9 1573.0 L412.9 1571.1 L414.9 1569.1 L416.9 1567.2 L418.9 1565.2 L420.9 1563.3 L422.9 1561.3 L424.9 1559.4 L426.9 1557.5 L428.9 1555.6 L430.9 1553.6 L432.9 1551.7 L434.9 1549.8 L436.9 1547.9 L438.9 1546.0 L440.9 1544.2 L442.9 1542.3 L444.9 1540.4 L446.9 1538.5 L448.9 1536.7 L450.9 1534.8 L452.9 1533.0 L454.9 1531.1 L456.9 1529.3 L458.9 1527.4 L460.9 1525.6 L462.9 1523.7 L464.9 1521.9 L466.9 1520.1 L468.9 1518.3 L470.9 1516.5 L472.9 1514.7 L474.9 1512.9 L476.9 1511.1 L478.9 1509.3 L480.9 1507.5 L482.9 1505.7 L484.9 1503.9 L486.9 1502.1 L488.9 1500.4 L490.9 1498.6 L492.9 1496.8 L494.9 1495.1 L496.9 1493.3 L498.9 1491.6 L500.9 1489.8 L502.9 1488.1 L504.9 1486.3 L506.9 1484.6 L508.9 1482.9 L510.9 1481.1 L512.9 1479.4 L514.9 1477.7 L516.9 1476.0 L518.9 1474.3 L520.9 1472.6 L522.9 1470.9 L524.9 1469.2 L526.9 1467.5 L528.9 1465.8 L530.9 1464.1 L532.9 1462.4 L534.9 1460.7 L536.9 1459.0 L538.9 1457.3 L540.9 1455.7 L542.9 1454.0 L544.9 1452.3 L546.9 1450.6 L548.9 1449.0 L550.9 1447.3 L552.9 1445.7 L554.9 1444.0 L556.9 1442.4 L558.9 1440.7 L560.9 1439.1 L562.9 1437.4 L564.9 1435.8 L566.9 1434.1 L568.9 1432.5 L570.9 1430.9 L572.9 1429.2 L574.9 1427.6 L576.9 1426.0 L578.9 1424.4 L580.9 1422.8 L582.9 1421.1 L584.9 1419.5 L586.9 1417.9 L588.7 1416.5" fill="none" stroke="#aaaaaa" stroke-width="2.7" stroke-linejoin="round" />
<path d="M10.9 1870.3 L12.9 1869.6 L14.9 1868.8 L16.9 1868.1 L18.9 1867.3 L20.9 1866.5 L22.9 1865.7 L24.9 1864.9 L26.9 1864.0 L28.9 1863.2 L30.9 1862.3 L32.9 1861.4 L34.9 1860.5 L36.9 1859.2 L38.9 1857.9 L40.9 1856.5 L42.9 1855.2 L44.9 1853.8 L46.9 1852.4 L48.9 1851.0 L50.9 1849.5 L52.9 1848.1 L54.9 1846.6 L56.9 1845.1 L58.9 1843.6 L60.9 1842.3 L62.9 1841.2 L64.9 1840.1 L66.9 1839.0 L68.9 1837.8 L70.9 1836.7 L72.9 1835.5 L74.9 1834.3 L76.9 1833.1 L78.9 1831.8 L80.9 1830.6 L82.9 1829.3 L84.9 1828.0 L86.9 1826.7 L88.9 1825.3 L90.9 1824.0 L92.9 1822.6 L94.9 1821.2 L96.9 1819.8 L98.9 1818.4 L100.9 1816.9 L102.9 1815.5 L104.9 1814.0 L106.9 1812.5 L108.9 1811.0 L110.9 1809.4 L112.9 1807.9 L114.9 1806.3 L116.9 1804.7 L118.9 1803.1 L120.9 1801.4 L122.9 1799.8 L124.9 1798.1 L126.9 1796.5 L128.9 1794.8 L130.9 1793.1 L132.9 1791.4 L134.9 1789.7 L136.9 1788.0 L138.9 1786.3 L140.9 1784.6 L142.9 1782.9 L144.9 1781.1 L146.9 1779.3 L148.9 1777.5 L150.9 1775.7 L152.9 1773.9 L154.9 1772.1 L156.9 1770.3 L158.9 1768.5 L160.9 1766.7 L162.9 1765.0 L164.9 1763.2 L166.9 1761.5 L168.9 1759.7 L170.9 1757.9 L172.9 1756.1 L174.9 1754.3 L176.9 1752.5 L178.9 1750.6 L180.9 1748.8 L182.9 1746.9 L184.9 1745.0 L186.9 1743.1 L188.9 1741.2 L190.9 1739.3 L192.9 1737.4 L194.9 1735.4 L196.9 1733.5 L198.9 1731.5 L200.9 1729.5 L202.9 1727.3 L204.9 1725.2 L206.9 1723.0 L208.9 1720.9 L210.9 1718.7 L212.9 1716.5 L214.9 1714.3 L216.9 1712.1 L218.9 1710.0 L220.9 1707.7 L222.9 1705.5 L224.9 1703.3 L226.9 1701.1 L228.9 1698.9 L230.9 1696.7 L232.9 1694.4 L234.9 1692.2 L236.9 1690.0 L238.9 1687.7 L240.9 1685.5 L242.9 1683.2 L244.9 1681.0 L246.9 1678.7 L248.9 1676.5 L250.9 1674.2 L252.9 1672.0 L254.9 1669.7 L256.9 1667.5 L258.9 1665.2 L260.9 1662.9 L262.9 1660.6 L264.9 1658.3 L266.9 1656.1 L268.9 1653.8 L270.9 1651.5 L272.9 1649.2 L274.9 1646.9 L276.9 1644.6 L278.9 1642.3 L280.9 1640.0 L282.9 1637.7 L284.9 1635.5 L286.9 1633.2 L288.9 1630.9 L290.9 1628.6 L292.9 1626.3 L294.9 1624.1 L296.9 1621.8 L298.9 1619.5 L300.9 1617.3 L302.9 1615.0 L304.9 1612.8 L306.9 1610.5 L308.9 1608.3 L310.9 1606.0 L312.9 1603.8 L314.9 1601.6 L316.9 1599.3 L318.9 1597.1 L320.9 1594.9 L322.9 1592.7 L324.9 1590.4 L326.9 1588.2 L328.9 1586.0 L330.9 1583.8 L332.9 1581.6 L334.9 1579.5 L336.9 1577.3 L338.9 1575.1 L340.9 1572.9 L342.9 1570.8 L344.9 1568.6 L346.9 1566.4 L348.9 1564.3 L350.9 1562.1 L352.9 1560.0 L354.9 1557.9 L356.9 1555.7 L358.9 1553.6 L360.9 1551.5 L362.9 1549.4 L364.9 1547.3 L366.9 1545.2 L368.9 1543.1 L370.9 1541.0 L372.9 1538.9 L374.9 1536.8 L376.9 1534.8 L378.9 1532.7 L380.9 1530.6 L382.9 1528.6 L384.9 1526.5 L386.9 1524.5 L388.9 1522.5 L390.9 1520.4 L392.9 1518.4 L394.9 1516.4 L396.9 1514.4 L398.9 1512.4 L400.9 1510.4 L402.9 1508.4 L404.9 1506.4 L406.9 1504.4 L408.9 1502.5 L410.9 1500.5 L412.9 1498.5 L414.9 1496.6 L416.9 1494.6 L418.9 1492.7 L420.9 1490.7 L422.9 1488.8 L424.9 1486.9 L426.9 1484.9 L428.9 1483.0 L430.9 1481.1 L432.9 1479.2 L434.9 1477.3 L436.9 1475.4 L438.9 1473.5 L440.9 1471.6 L442.9 1469.7 L444.9 1467.9 L446.9 1466.0 L448.9 1464.1 L450.9 1462.3 L452.9 1460.4 L454.9 1458.6 L456.9 1456.7 L458.9 1454.9 L460.9 1453.0 L462.9 1451.2 L464.9 1449.4 L466.9 1447.6 L468.9 1445.7 L470.9 1443.9 L472.9 1442.1 L474.9 1440.3 L476.9 1438.5 L478.9 1436.7 L480.9 1434.9 L482.9 1433.1 L484.9 1431.4 L486.9 1429.6 L488.9 1427.8 L490.9 1426.0 L492.9 1424.3 L494.9 1422.5 L496.9 1420.8 L498.9 1419.0 L500.9 1417.3 L501.8 1416.5" fill="none" stroke="#aaaaaa" stroke-width="2.7" stroke-linejoin="round" />
<path d="M3.0 2036.4 L5.0 2035.8 L7.0 2035.2 L9.0 2034.5 L11.0 2033.8 L13.0 2033.0 L15.0 2032.2 L17.0 2031.5 L19.0 2030.7 L21.0 2029.8 L23.0 2029.0 L25.0 2028.2 L27.0 2027.3 L29.0 2026.4 L31.0 2025.5 L33.0 2024.6 L35.0 2023.7 L37.0 2022.2 L39.0 2020.7 L41.0 2019.1 L43.0 2017.6 L45.0 2016.0 L47.0 2014.4 L49.0 2012.8 L51.0 2011.2 L53.0 2009.5 L55.0 2007.9 L57.0 2006.2 L59.0 2004.5 L61.0 2003.1 L63.0 2002.0 L65.0 2000.9 L67.0 1999.8 L69.0 1998.6 L71.0 1997.5 L73.0 1996.3 L75.0 1995.1 L77.0 1993.8 L79.0 1992.6 L81.0 1991.3 L83.0 1990.1 L85.0 1988.8 L87.0 1987.4 L89.0 1986.1 L91.0 1984.8 L93.0 1983.4 L95.0 1982.0 L97.0 1980.6 L99.0 1979.1 L101.0 1977.7 L103.0 1976.2 L105.0 1974.7 L107.0 1973.2 L109.0 1971.7 L111.0 1970.2 L113.0 1968.6 L115.0 1967.0 L117.0 1965.4 L119.0 1963.8 L121.0 1962.2 L123.0 1960.6 L125.0 1958.9 L127.0 1957.2 L129.0 1955.5 L131.0 1953.8 L133.0 1952.2 L135.0 1950.6 L137.0 1948.9 L139.0 1947.2 L141.0 1945.5 L143.0 1943.8 L145.0 1942.1 L147.0 1940.4 L149.0 1938.6 L151.0 1936.8 L153.0 1935.0 L155.0 1933.2 L157.0 1931.4 L159.0 1929.7 L161.0 1928.1 L163.0 1926.4 L165.0 1924.8 L167.0 1923.1 L169.0 1921.4 L171.0 1919.7 L173.0 1918.0 L175.0 1916.3 L177.0 1914.5 L179.0 1912.8 L181.0 1911.0 L183.0 1909.3 L185.0 1907.5 L187.0 1905.7 L189.0 1903.8 L191.0 1902.0 L193.0 1900.2 L195.0 1898.3 L197.0 1896.5 L199.0 1894.6 L201.0 1892.6 L203.0 1890.5 L205.0 1888.4 L207.0 1886.2 L209.0 1884.1 L211.0 1881.9 L213.0 1879.7 L215.0 1877.6 L217.0 1875.4 L219.0 1873.2 L221.0 1871.0 L223.0 1868.8 L225.0 1866.6 L227.0 1864.4 L229.0 1862.2 L231.0 1860.0 L233.0 1857.8 L235.0 1855.6 L237.0 1853.4 L239.0 1851.1 L241.0 1848.9 L243.0 1846.7 L245.0 1844.4 L247.0 1842.2 L249.0 1840.0 L251.0 1837.7 L253.0 1835.5 L255.0 1833.3 L257.0 1831.0 L259.0 1828.8 L261.0 1826.5 L263.0 1824.2 L265.0 1821.9 L267.0 1819.6 L269.0 1817.3 L271.0 1815.0 L273.0 1812.7 L275.0 1810.5 L277.0 1808.2 L279.0 1805.9 L281.0 1803.6 L283.0 1801.3 L285.0 1799.0 L287.0 1796.7 L289.0 1794.5 L291.0 1792.2 L293.0 1789.9 L295.0 1787.6 L297.0 1785.4 L299.0 1783.1 L301.0 1780.9 L303.0 1778.6 L305.0 1776.3 L307.0 1774.1 L309.0 1771.8 L311.0 1769.6 L313.0 1767.4 L315.0 1765.1 L317.0 1762.9 L319.0 1760.7 L321.0 1758.4 L323.0 1756.2 L325.0 1754.0 L327.0 1751.8 L329.0 1749.6 L331.0 1747.4 L333.0 1745.2 L335.0 1743.0 L337.0 1740.8 L339.0 1738.7 L341.0 1736.5 L343.0 1734.3 L345.0 1732.2 L347.0 1730.0 L349.0 1727.9 L351.0 1725.7 L353.0 1723.6 L355.0 1721.4 L357.0 1719.3 L359.0 1717.2 L361.0 1715.1 L363.0 1713.0 L365.0 1710.9 L367.0 1708.8 L369.0 1706.7 L371.0 1704.6 L373.0 1702.5 L375.0 1700.4 L377.0 1698.3 L379.0 1696.3 L381.0 1694.2 L383.0 1692.2 L385.0 1690.1 L387.0 1688.1 L389.0 1686.1 L391.0 1684.0 L393.0 1682.0 L395.0 1680.0 L397.0 1678.0 L399.0 1676.0 L401.0 1674.0 L403.0 1672.0 L405.0 1670.0 L407.0 1668.0 L409.0 1666.0 L411.0 1664.1 L413.0 1662.1 L415.0 1660.1 L417.0 1658.2 L419.0 1656.2 L421.0 1654.3 L423.0 1652.4 L425.0 1650.4 L427.0 1648.5 L429.0 1646.6 L431.0 1644.7 L433.0 1642.8 L435.0 1640.9 L437.0 1639.0 L439.0 1637.1 L441.0 1635.2 L443.0 1633.3 L445.0 1631.4 L447.0 1629.6 L449.0 1627.7 L451.0 1625.8 L453.0 1624.0 L455.0 1622.1 L457.0 1620.3 L459.0 1618.5 L461.0 1616.6 L463.0 1614.8 L465.0 1613.0 L467.0 1611.1 L469.0 1609.3 L471.0 1607.5 L473.0 1605.7 L475.0 1603.9 L477.0 1602.1 L479.0 1600.3 L481.0 1598.5 L483.0 1596.7 L485.0 1595.0 L487.0 1593.2 L489.0 1591.4 L491.0 1589.6 L493.0 1587.9 L495.0 1586.1 L497.0 1584.4 L499.0 1582.6 L501.0 1580.9 L503.0 1579.1 L505.0 1577.4 L507.0 1575.7 L509.0 1573.9 L511.0 1572.2 L513.0 1570.5 L515.0 1568.7 L517.0 1567.0 L519.0 1565.3 L521.0 1563.6 L523.0 1561.9 L525.0 1560.2 L527.0 1558.5 L529.0 1556.8 L531.0 1555.1 L533.0 1553.4 L535.0 1551.7 L537.0 1550.1 L539.0 1548.4 L541.0 1546.7 L543.0 1545.0 L545.0 1543.4 L547.0 1541.7 L549.0 1540.0 L551.0 1538.4 L553.0 1536.7 L555.0 1535.1 L557.0 1533.4 L559.0 1531.8 L561.0 1530.1 L563.0 1528.5 L565.0 1526.8 L567.0 1525.2 L569.0 1523.6 L571.0 1521.9 L573.0 1520.3 L575.0 1518.7 L577.0 1517.0 L579.0 1515.4 L581.0 1513.8 L583.0 1512.2 L585.0 1510.6 L587.0 1509.0 L589.0 1507.4 L591.0 1505.7 L593.0 1504.1 L595.0 1502.5 L597.0 1500.9 L599.0 1499.3 L601.0 1497.7 L603.0 1496.1 L605.0 1494.6 L607.0 1493.0 L609.0 1491.4 L611.0 1489.8 L613.0 1488.2 L615.0 1486.6 L617.0 1485.0 L619.0 1483.5 L621.0 1481.9 L623.0 1480.3 L625.0 1478.7 L627.0 1477.2 L629.0 1475.6 L631.0 1474.0 L633.0 1472.5 L635.0 1470.9 L637.0 1469.3 L639.0 1467.8 L641.0 1466.2 L643.0 1464.7 L645.0 1463.1 L647.0 1461.6 L649.0 1460.0 L651.0 1458.5 L653.0 1456.9 L655.0 1455.4 L657.0 1453.8 L659.0 1452.3 L661.0 1450.7 L663.0 1449.2 L665.0 1447.7 L666.0 1446.9" fill="none" stroke="#000" stroke-width="6.8" stroke-linejoin="round" stroke-linecap="round"/>
<rect x="42.7" y="1385.5" width="52.9" height="37.3" fill="#fff"/>
<text transform="translate(44.43 1415.16) scale(1.0160 1)" font-family="Liberation Sans" font-size="29.12" fill="#000" stroke="#000" stroke-width="0.50" stroke-linejoin="round">150</text>
<rect x="42.7" y="1427.4" width="52.9" height="37.5" fill="#fff"/>
<text transform="translate(44.43 1457.26) scale(1.0062 1)" font-family="Liberation Sans" font-size="29.40" fill="#000" stroke="#000" stroke-width="0.50" stroke-linejoin="round">100</text>
<rect x="41.2" y="1498.1" width="37.7" height="38.7" fill="#fff"/>
<text transform="translate(43.96 1529.14) scale(0.9593 1)" font-family="Liberation Sans" font-size="31.10" fill="#000" stroke="#000" stroke-width="0.52" stroke-linejoin="round">50</text>
<rect x="41.2" y="1591.8" width="37.7" height="38.3" fill="#fff"/>
<text transform="translate(43.64 1622.44) scale(0.9866 1)" font-family="Liberation Sans" font-size="30.53" fill="#000" stroke="#000" stroke-width="0.51" stroke-linejoin="round">20</text>
<rect x="42.7" y="1663.7" width="36.2" height="37.9" fill="#fff"/>
<text transform="translate(44.45 1693.95) scale(0.9803 1)" font-family="Liberation Sans" font-size="29.96" fill="#000" stroke="#000" stroke-width="0.51" stroke-linejoin="round">10</text>
<rect x="41.7" y="1735.5" width="20.2" height="37.5" fill="#fff"/>
<text transform="translate(44.53 1765.35) scale(0.9389 1)" font-family="Liberation Sans" font-size="29.82" fill="#000" stroke="#000" stroke-width="0.53" stroke-linejoin="round">5</text>
<rect x="41.4" y="1828.9" width="20.0" height="37.6" fill="#fff"/>
<text transform="translate(43.91 1859.15) scale(0.9609 1)" font-family="Liberation Sans" font-size="29.96" fill="#000" stroke="#000" stroke-width="0.52" stroke-linejoin="round">2</text>
<rect x="43.5" y="1900.7" width="17.0" height="37.3" fill="#fff"/>
<text transform="translate(45.70 1930.65) scale(0.7794 1)" font-family="Liberation Sans" font-size="29.96" fill="#000" stroke="#000" stroke-width="0.64" stroke-linejoin="round">1</text>
<rect x="42.2" y="1964.5" width="19.4" height="27.2" fill="#fff"/>
<text transform="translate(43.18 1986.21) scale(0.9438 1)" font-family="Liberation Sans" font-size="21.72" fill="#000" stroke="#000" stroke-width="0.37" stroke-linejoin="round">.5</text>
<rect x="259.6" y="1967.8" width="34.8" height="37.0" fill="#fff"/>
<text transform="translate(261.45 1997.16) scale(0.9748 1)" font-family="Liberation Sans" font-size="28.69" fill="#000" stroke="#000" stroke-width="0.51" stroke-linejoin="round">10</text>
<rect x="358.7" y="1968.2" width="37.7" height="37.1" fill="#fff"/>
<text transform="translate(361.14 1997.66) scale(1.0447 1)" font-family="Liberation Sans" font-size="28.83" fill="#000" stroke="#000" stroke-width="0.50" stroke-linejoin="round">20</text>
<rect x="490.9" y="1968.2" width="36.9" height="37.1" fill="#fff"/>
<text transform="translate(493.69 1997.66) scale(1.0077 1)" font-family="Liberation Sans" font-size="28.83" fill="#000" stroke="#000" stroke-width="0.50" stroke-linejoin="round">50</text>
<rect x="577.2" y="1968.2" width="52.7" height="37.1" fill="#fff"/>
<text transform="translate(578.94 1997.66) scale(1.0215 1)" font-family="Liberation Sans" font-size="28.83" fill="#000" stroke="#000" stroke-width="0.50" stroke-linejoin="round">100</text>
<rect x="490.6" y="1389.6" width="47.7" height="26.5" fill="#fff"/>
<text transform="translate(492.94 1411.04) scale(0.9975 1)" font-family="Liberation Sans" font-size="21.48" fill="#2a2a2a" stroke="#2a2a2a" stroke-width="0.30" stroke-linejoin="round">80%</text>
<rect x="575.8" y="1389.6" width="47.7" height="26.5" fill="#fff"/>
<text transform="translate(577.97 1411.04) scale(1.0014 1)" font-family="Liberation Sans" font-size="21.48" fill="#2a2a2a" stroke="#2a2a2a" stroke-width="0.30" stroke-linejoin="round">60%</text>
<rect x="622.0" y="1389.6" width="47.7" height="26.5" fill="#fff"/>
<text transform="translate(624.77 1411.04) scale(0.9872 1)" font-family="Liberation Sans" font-size="21.48" fill="#2a2a2a" stroke="#2a2a2a" stroke-width="0.30" stroke-linejoin="round">40%</text>
<path d="M114.50 1386.90 L126.50 1394.90 M114.50 1394.90 L126.50 1386.90" stroke="#1a1a1a" stroke-width="1.7" stroke-linecap="round"/>
<path d="M120.50 1385.50 L120.50 1396.30" stroke="#666" stroke-width="1.6" stroke-linecap="round"/>
<rect x="118.70" y="1389.20" width="3.6" height="3.4" fill="#000"/>
<text transform="translate(130.08 1407.25) scale(0.9761 1)" font-family="Liberation Sans" font-size="29.68" fill="#000" stroke="#000" stroke-width="0.51" stroke-linejoin="round">10</text>
<text transform="translate(161.95 1395.44) scale(0.6520 1)" font-family="Liberation Sans" font-size="32.26" fill="#000">-</text>
<text transform="translate(169.99 1393.81) scale(1.1281 1)" font-family="Liberation Sans" font-size="19.22" fill="#000">3</text>
<path d="M124.05 1444.35 C132.27 1444.35 137.75 1450.19 137.75 1458.95 C137.75 1467.71 132.27 1473.55 124.05 1473.55 C115.83 1473.55 110.35 1467.71 110.35 1458.95 C110.35 1450.19 115.83 1444.35 124.05 1444.35Z" fill="none" stroke="#000" stroke-width="4.0"/>
<path d="M126.0 1473.10 C126.4 1479.40 128.8 1481.70 132.6 1481.70 L138.9 1481.70" fill="none" stroke="#000" stroke-width="3.8"/>
<path d="M147.3 1468.0h9.6v2.7h-3.2v20.6h3.2v2.7h-9.6v-2.7h3.2v-20.6h-3.2z" fill="#000"/>
<text transform="translate(157.85 1491.71) scale(0.9598 1)" font-family="Liberation Sans" font-size="34.41" fill="#000" stroke="#000" stroke-width="0.52" stroke-linejoin="round">gM</text>
<path d="M572.80 1860.85 C581.02 1860.85 586.50 1866.79 586.50 1875.70 C586.50 1884.61 581.02 1890.55 572.80 1890.55 C564.58 1890.55 559.10 1884.61 559.10 1875.70 C559.10 1866.79 564.58 1860.85 572.80 1860.85Z" fill="none" stroke="#000" stroke-width="4.0"/>
<path d="M575.0 1890.30 C575.4 1896.10 577.6 1898.30 581.4 1898.30 L587.7 1898.30" fill="none" stroke="#000" stroke-width="3.8"/>
<text transform="translate(594.76 1910.27) scale(0.9119 1)" font-family="Liberation Sans" font-size="37.69" fill="#000" stroke="#000" stroke-width="0.55" stroke-linejoin="round">Alb</text>
<path d="M523.20 1936.10 L535.20 1944.10 M523.20 1944.10 L535.20 1936.10" stroke="#1a1a1a" stroke-width="1.7" stroke-linecap="round"/>
<path d="M529.20 1934.70 L529.20 1945.50" stroke="#666" stroke-width="1.6" stroke-linecap="round"/>
<rect x="527.40" y="1938.40" width="3.6" height="3.4" fill="#000"/>
<text transform="translate(538.75 1955.65) scale(0.8942 1)" font-family="Liberation Sans" font-size="29.82" fill="#000" stroke="#000" stroke-width="0.56" stroke-linejoin="round">10</text>
<text transform="translate(576.93 1950.24) scale(0.6008 1)" font-family="Liberation Sans" font-size="32.26" fill="#000">-</text>
<text transform="translate(583.83 1947.31) scale(1.0702 1)" font-family="Liberation Sans" font-size="19.08" fill="#000">3</text>
<g fill="#fff" stroke="#000" stroke-width="2.6">
<circle cx="34.5" cy="556.2" r="8.8"/>
<circle cx="34.2" cy="566.4" r="8.8"/>
<circle cx="28.6" cy="578.6" r="8.8"/>
<circle cx="76.2" cy="577.2" r="8.8"/>
<circle cx="50.5" cy="527.8" r="8.8"/>
<circle cx="67.1" cy="514.1" r="8.8"/>
<circle cx="66.6" cy="527.5" r="8.8"/>
<circle cx="81.5" cy="528.2" r="8.8"/>
<circle cx="67.4" cy="547.1" r="8.8"/>
<circle cx="87.6" cy="536.6" r="8.8"/>
<circle cx="80.9" cy="499.7" r="8.8"/>
<circle cx="86.4" cy="475.3" r="8.8"/>
<circle cx="106.0" cy="509.3" r="8.8"/>
<circle cx="115.5" cy="515.5" r="8.8"/>
<circle cx="133.1" cy="449.0" r="8.8"/>
<circle cx="131.4" cy="461.4" r="8.8"/>
<circle cx="106.7" cy="469.1" r="8.8"/>
<circle cx="113.7" cy="465.8" r="8.8"/>
<circle cx="123.1" cy="478.7" r="8.8"/>
<circle cx="150.1" cy="469.8" r="8.8"/>
<circle cx="139.8" cy="489.6" r="8.8"/>
<circle cx="120.1" cy="498.8" r="8.8"/>
<circle cx="133.0" cy="503.0" r="8.8"/>
<circle cx="158.5" cy="442.0" r="8.8"/>
<circle cx="191.5" cy="444.0" r="8.8"/>
<circle cx="158.4" cy="408.7" r="8.8"/>
<circle cx="188.5" cy="403.1" r="8.8"/>
<circle cx="211.8" cy="408.4" r="8.8"/>
<circle cx="200.4" cy="417.7" r="8.8"/>
<circle cx="217.1" cy="423.3" r="8.8"/>
<circle cx="200.4" cy="430.6" r="8.8"/>
<circle cx="208.0" cy="434.7" r="8.8"/>
<circle cx="225.8" cy="442.0" r="8.8"/>
<circle cx="205.2" cy="456.0" r="8.8"/>
<circle cx="178.0" cy="436.4" r="8.8"/>
<circle cx="157.5" cy="454.8" r="8.8"/>
<circle cx="178.2" cy="454.0" r="8.8"/>
<circle cx="177.7" cy="477.0" r="8.8"/>
<circle cx="332.5" cy="342.9" r="8.8"/>
<circle cx="296.9" cy="340.8" r="8.8"/>
<circle cx="240.9" cy="362.7" r="8.8"/>
<circle cx="257.7" cy="364.4" r="8.8"/>
<circle cx="249.3" cy="353.4" r="8.8"/>
<circle cx="279.6" cy="362.7" r="8.8"/>
<circle cx="293.9" cy="364.4" r="8.8"/>
<circle cx="297.4" cy="379.3" r="8.8"/>
<circle cx="282.2" cy="387.2" r="8.8"/>
<circle cx="249.6" cy="389.8" r="8.8"/>
<circle cx="275.9" cy="476.0" r="8.8"/>
<circle cx="291.6" cy="469.8" r="8.8"/>
<circle cx="199.7" cy="948.9" r="8.8"/>
<circle cx="177.4" cy="1044.9" r="8.8"/>
<circle cx="161.0" cy="1063.9" r="8.8"/>
<circle cx="189.6" cy="1070.3" r="8.8"/>
<circle cx="241.3" cy="1045.5" r="8.8"/>
<circle cx="250.4" cy="1067.4" r="8.8"/>
<circle cx="279.6" cy="1067.4" r="8.8"/>
<circle cx="293.3" cy="1028.0" r="8.8"/>
<circle cx="295.6" cy="1013.9" r="8.8"/>
<circle cx="291.8" cy="1043.1" r="8.8"/>
<circle cx="331.2" cy="1009.0" r="8.8"/>
<circle cx="171.5" cy="1106.3" r="8.8"/>
<circle cx="180.3" cy="1125.5" r="8.8"/>
<circle cx="225.0" cy="1108.9" r="8.8"/>
<circle cx="207.4" cy="1119.4" r="8.8"/>
<circle cx="200.4" cy="1136.4" r="8.8"/>
<circle cx="217.1" cy="1150.1" r="8.8"/>
<circle cx="204.8" cy="1157.1" r="8.8"/>
<circle cx="158.4" cy="1164.1" r="8.8"/>
<circle cx="157.5" cy="1156.2" r="8.8"/>
<circle cx="160.1" cy="1180.7" r="8.8"/>
<circle cx="175.5" cy="1187.8" r="8.8"/>
<circle cx="189.8" cy="1192.9" r="8.8"/>
<circle cx="161.2" cy="1193.9" r="8.8"/>
<circle cx="177.5" cy="1203.1" r="8.8"/>
<circle cx="86.6" cy="1180.2" r="8.8"/>
<circle cx="81.5" cy="1207.2" r="8.8"/>
<circle cx="114.2" cy="1202.1" r="8.8"/>
<circle cx="139.7" cy="1201.1" r="8.8"/>
<circle cx="128.5" cy="1193.9" r="8.8"/>
<circle cx="125.4" cy="1209.3" r="8.8"/>
<circle cx="139.7" cy="1216.4" r="8.8"/>
<circle cx="92.5" cy="1235.5" r="8.8"/>
<circle cx="106.2" cy="1235.0" r="8.8"/>
<circle cx="67.7" cy="1257.2" r="8.8"/>
<circle cx="86.4" cy="1257.2" r="8.8"/>
<circle cx="102.8" cy="1256.1" r="8.8"/>
<circle cx="119.1" cy="1256.1" r="8.8"/>
<circle cx="132.0" cy="1245.5" r="8.8"/>
<circle cx="144.8" cy="1245.5" r="8.8"/>
<circle cx="100.4" cy="1272.4" r="8.8"/>
<circle cx="114.5" cy="1271.2" r="8.8"/>
<circle cx="51.4" cy="1288.8" r="8.8"/>
<circle cx="67.7" cy="1287.6" r="8.8"/>
<circle cx="80.6" cy="1287.6" r="8.8"/>
<circle cx="28.6" cy="1360.1" r="8.8"/>
<circle cx="289.9" cy="1718.9" r="8.8"/>
<circle cx="296.9" cy="1710.1" r="8.8"/>
<circle cx="293.4" cy="1738.2" r="8.8"/>
<circle cx="332.0" cy="1768.0" r="8.8"/>
<circle cx="279.4" cy="1784.6" r="8.8"/>
<circle cx="188.7" cy="1773.5" r="8.8"/>
<circle cx="293.7" cy="1834.5" r="8.8"/>
<circle cx="158.0" cy="1853.4" r="8.8"/>
<circle cx="160.9" cy="1860.7" r="8.8"/>
<circle cx="199.4" cy="1859.3" r="8.8"/>
<circle cx="223.6" cy="1852.8" r="8.8"/>
<circle cx="180.7" cy="1882.0" r="8.8"/>
<circle cx="207.7" cy="1886.5" r="8.8"/>
<circle cx="241.3" cy="1905.7" r="8.8"/>
<circle cx="216.3" cy="1924.8" r="8.8"/>
<circle cx="161.2" cy="1913.9" r="8.8"/>
<circle cx="158.4" cy="1937.2" r="8.8"/>
<circle cx="127.6" cy="1936.1" r="8.8"/>
<circle cx="128.5" cy="1966.5" r="8.8"/>
<circle cx="139.8" cy="1966.5" r="8.8"/>
<circle cx="177.5" cy="1965.7" r="8.8"/>
<circle cx="132.6" cy="1986.6" r="8.8"/>
<circle cx="175.5" cy="1985.5" r="8.8"/>
<circle cx="176.7" cy="1986.6" r="8.8"/>
<circle cx="106.5" cy="1986.0" r="8.8"/>
<circle cx="107.5" cy="2008.4" r="8.8"/>
<circle cx="139.0" cy="2008.3" r="8.8"/>
<circle cx="160.7" cy="2008.3" r="8.8"/>
<circle cx="67.7" cy="1986.0" r="8.8"/>
<circle cx="82.3" cy="1986.0" r="8.8"/>
<circle cx="50.2" cy="2008.2" r="8.8"/>
<circle cx="85.2" cy="2008.8" r="8.8"/>
<circle cx="88.1" cy="2008.8" r="8.8"/>
<circle cx="92.2" cy="2008.8" r="8.8"/>
<circle cx="28.3" cy="2038.5" r="8.8"/>
<circle cx="67.5" cy="2038.5" r="8.8"/>
<circle cx="85.0" cy="2038.5" r="8.8"/>
<circle cx="108.0" cy="2038.5" r="8.8"/>
<circle cx="112.4" cy="2038.5" r="8.8"/>
<circle cx="120.1" cy="2038.5" r="8.8"/>
<circle cx="144.2" cy="2038.5" r="8.8"/>
<circle cx="179.2" cy="2038.5" r="8.8"/>
<circle cx="192.3" cy="2038.5" r="8.8"/>
<circle cx="277.4" cy="2038.7" r="8.8"/>
</g>
<path d="M267.9 1359.2 A8.8 8.8 0 0 1 285.5 1359.2" fill="#fff" stroke="#000" stroke-width="2.6"/>
<line x1="3" y1="1.9" x2="3" y2="681.5" stroke="#222" stroke-width="2"/>
<line x1="2" y1="2.9" x2="682.7" y2="2.9" stroke="#222" stroke-width="1.9"/>
<line x1="681.2" y1="2.0" x2="681.2" y2="682.0" stroke="#000" stroke-width="3"/>
<line x1="2" y1="680.5" x2="682.7" y2="680.5" stroke="#000" stroke-width="3"/>
<line x1="3" y1="682.2" x2="3" y2="1361.8" stroke="#222" stroke-width="2"/>
<line x1="2" y1="682.5" x2="682.7" y2="682.5" stroke="#222" stroke-width="1.9"/>
<line x1="681.2" y1="682.3" x2="681.2" y2="1362.3" stroke="#000" stroke-width="3"/>
<line x1="2" y1="1360.8" x2="682.7" y2="1360.8" stroke="#000" stroke-width="3"/>
<line x1="3" y1="1361.0" x2="3" y2="2040.6" stroke="#222" stroke-width="2"/>
<line x1="2" y1="1361.3" x2="682.7" y2="1361.3" stroke="#222" stroke-width="1.9"/>
<line x1="681.2" y1="1361.1" x2="681.2" y2="2041.1" stroke="#000" stroke-width="3"/>
<line x1="2" y1="2039.6" x2="682.7" y2="2039.6" stroke="#000" stroke-width="3"/>
</svg></body></html>
